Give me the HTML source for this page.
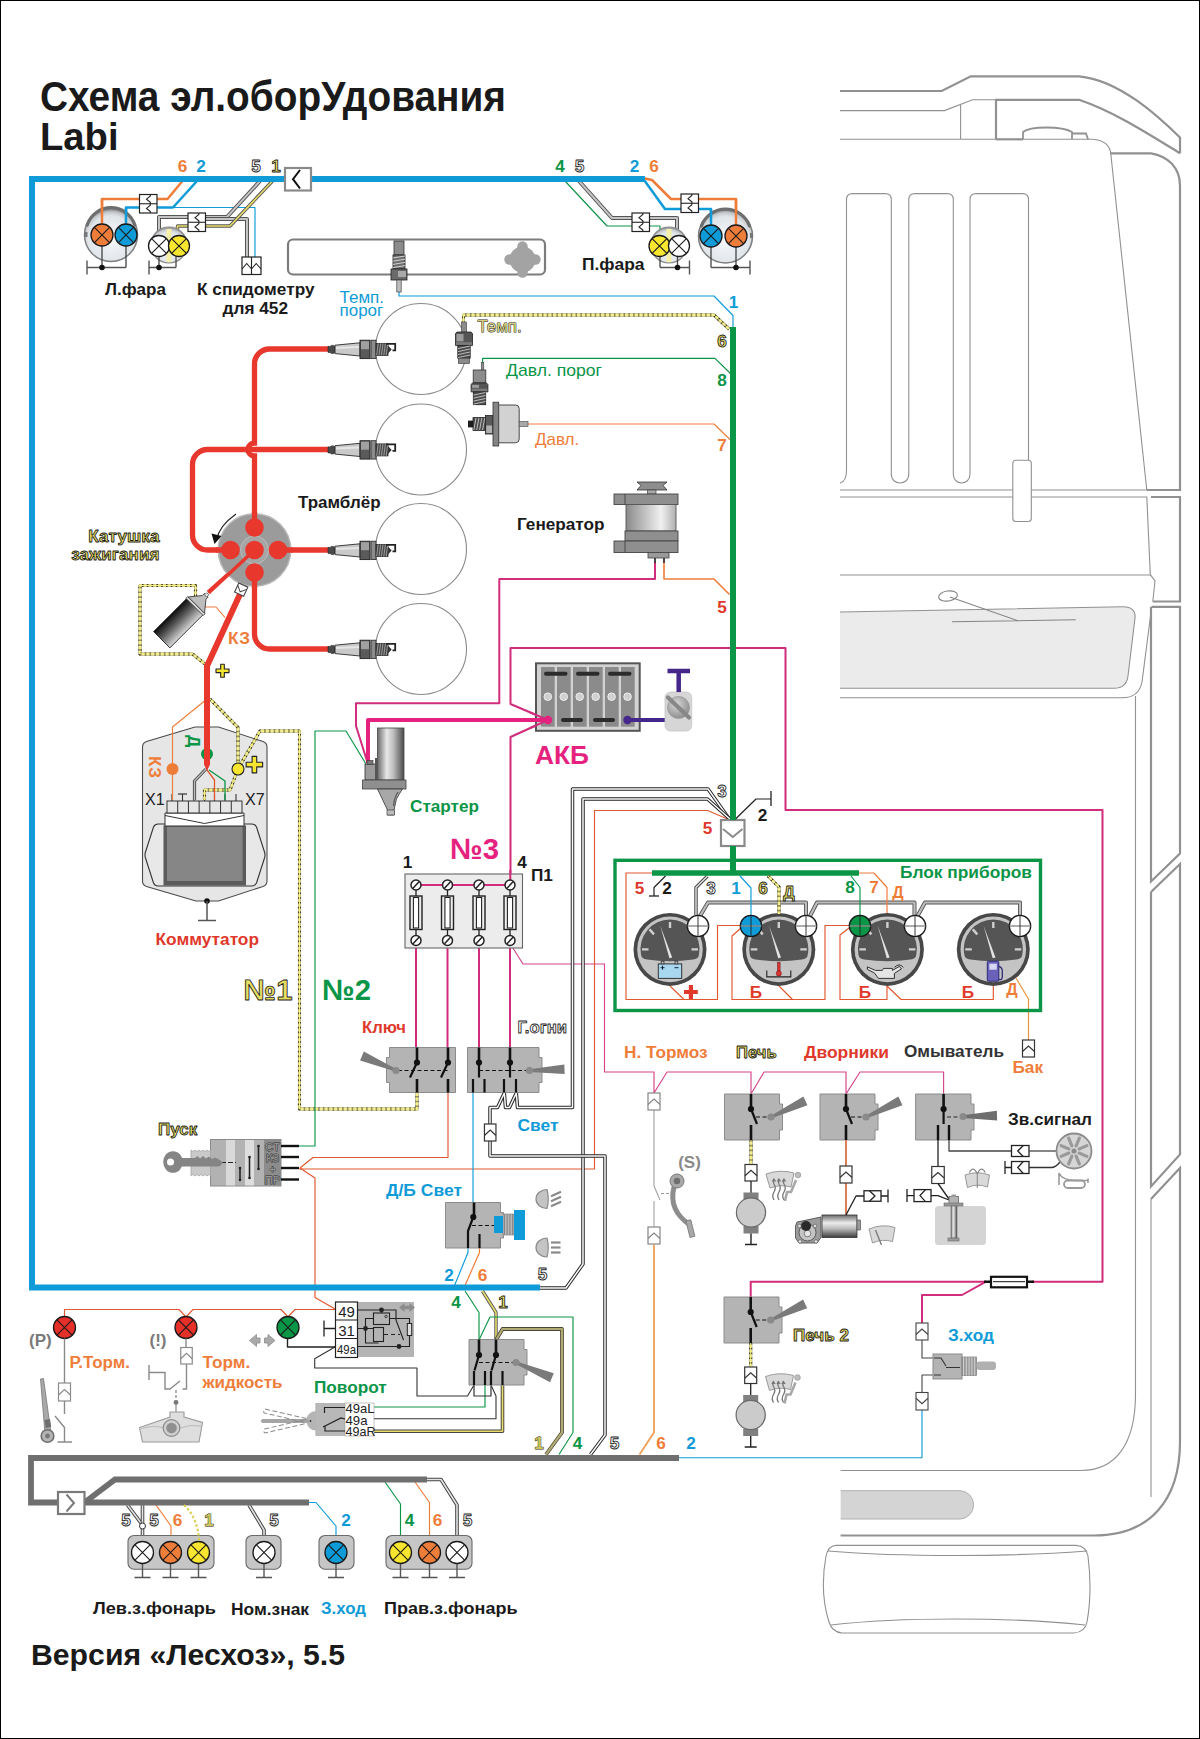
<!DOCTYPE html>
<html><head><meta charset="utf-8"><title>Схема эл.оборудования</title>
<style>html,body{margin:0;padding:0;background:#fff;}body{width:1200px;height:1739px;overflow:hidden;font-family:"Liberation Sans",sans-serif;}svg{display:block}</style>
</head><body>
<svg width="1200" height="1739" viewBox="0 0 1200 1739" font-family="'Liberation Sans', sans-serif">
<defs>
<radialGradient id="hl" cx="0.5" cy="0.58" r="0.55"><stop offset="0" stop-color="#f6f8fa"/><stop offset="0.8" stop-color="#e0e5ea"/><stop offset="0.93" stop-color="#c4c8cc"/><stop offset="1" stop-color="#9a9a9a"/></radialGradient>
<linearGradient id="cyl" x1="0" x2="1" y1="0" y2="0"><stop offset="0" stop-color="#6a6a6a"/><stop offset="0.35" stop-color="#e8e8e8"/><stop offset="0.6" stop-color="#bdbdbd"/><stop offset="1" stop-color="#4a4a4a"/></linearGradient>
<linearGradient id="cylv" x1="0" x2="0" y1="0" y2="1"><stop offset="0" stop-color="#6a6a6a"/><stop offset="0.35" stop-color="#ececec"/><stop offset="0.6" stop-color="#bdbdbd"/><stop offset="1" stop-color="#3c3c3c"/></linearGradient>
<linearGradient id="coilg" x1="0" x2="0" y1="1" y2="0"><stop offset="0" stop-color="#0c0c0c"/><stop offset="0.4" stop-color="#555"/><stop offset="1" stop-color="#d8d8d8"/></linearGradient>
<linearGradient id="gen" x1="0" x2="1" y1="0" y2="0"><stop offset="0" stop-color="#8a8a8a"/><stop offset="0.7" stop-color="#f0f0f0"/><stop offset="1" stop-color="#b0b0b0"/></linearGradient>
<linearGradient id="dome" x1="0" x2="0" y1="0" y2="1"><stop offset="0" stop-color="#9a9a9a"/><stop offset="0.3" stop-color="#dadada"/><stop offset="0.7" stop-color="#c4c4c4"/><stop offset="1" stop-color="#8a8a8a"/></linearGradient>
<radialGradient id="knob" cx="0.4" cy="0.35" r="0.7"><stop offset="0" stop-color="#d8d8d8"/><stop offset="1" stop-color="#8a8a8a"/></radialGradient>
</defs>
<path d="M840,91 H941.7 L970.8,76.3 H1079 C1120,80 1160,118 1180,137.5 V153.3" fill="none" stroke="#919191" stroke-width="2.2" />
<path d="M840,110.6 H944.5 L972.5,99.8 H996" fill="none" stroke="#919191" stroke-width="1.1" />
<path d="M996,139.3 V99.8 H1079 C1115,112 1150,135 1180,153.3" fill="none" stroke="#919191" stroke-width="2.2" />
<path d="M996,139.3 H1023" fill="none" stroke="#919191" stroke-width="2.2" />
<path d="M960.6,104.5 V139.3 M840,139.3 H996" fill="none" stroke="#919191" stroke-width="1.1" />
<path d="M1023,139.3 V132 C1030,126 1062,126 1072,132 V139.3 M1072,133.5 H1086 L1088,139.3" fill="none" stroke="#919191" stroke-width="1.7600000000000002" />
<path d="M1023,139.3 H1092 C1104,140 1110,146 1110.8,154" fill="none" stroke="#919191" stroke-width="1.1" />
<path d="M1110.8,154 L1146.8,490" fill="none" stroke="#919191" stroke-width="1.1" />
<path d="M1110.8,153.3 H1151 C1168,156 1180,168 1180,185.5 V490 H1146.8" fill="none" stroke="#919191" stroke-width="2.2" />
<path d="M840,483 C845,482 846.5,476 846.5,470 V199.6 Q846.5,193.6 852.5,193.6 H885.3 Q891.3,193.6 891.3,199.6 V474 C891.3,486 908.8,486 908.8,474 V199.6 Q908.8,193.6 914.8,193.6 H947.3 Q953.3,193.6 953.3,199.6 V474 C953.3,486 970,486 970,474 V199.6 Q970,193.6 976,193.6 H1022.5 Q1028.5,193.6 1028.5,199.6 V460" fill="none" stroke="#919191" stroke-width="1.1" />
<path d="M840,490 H1146.8 M840,497 H1146.8 L1150.3,574.7 L1155,581 L1152.8,601.5" fill="none" stroke="#919191" stroke-width="1.1" />
<rect x="1012.8" y="460.3" width="18.5" height="61.2" fill="#fff" stroke="#919191" stroke-width="1.1" rx="3" />
<path d="M1151,497 H1180 V601.5 H1152.8" fill="none" stroke="#919191" stroke-width="2.2" />
<path d="M840,575 H1150.3" fill="none" stroke="#919191" stroke-width="1.1" />
<path d="M840,612 L1123,606.8 Q1136,606.8 1135,618 L1128,676 Q1126.5,688.3 1114,688.3 H840" fill="#ebebeb" stroke="#919191" stroke-width="1.1" />
<path d="M840,697.8 H1122 C1134,697.8 1140,692 1142,682 L1151.7,606.8" fill="none" stroke="#919191" stroke-width="1.1" />
<path d="M1151.7,606.8 H1180 V853.5 L1151,881.5 V606.8" fill="none" stroke="#919191" stroke-width="2.2" />
<ellipse cx="948" cy="596" rx="9.5" ry="5" fill="none" stroke="#858585" stroke-width="1.1" transform="rotate(-8 948 596)"/>
<path d="M950,597 L1018,620.8 M952,621.8 L1075.8,619.7" fill="none" stroke="#858585" stroke-width="1.1" />
<path d="M1135.5,696 V1394 C1135.5,1445 1115,1470.5 1081,1470.5 H840.6" fill="none" stroke="#919191" stroke-width="1.1" />
<path d="M1151,892 L1180,864 V1154.4 L1151,1186.4 V892" fill="none" stroke="#919191" stroke-width="2.2" />
<path d="M1151,1199 L1180,1168 V1441.8 C1180,1500 1150,1535.5 1094,1535.5 H840.6" fill="none" stroke="#919191" stroke-width="2.2" />
<path d="M1151,1199 V1497" fill="none" stroke="#919191" stroke-width="1.1" />
<path d="M840.6,1490.7 H960.6 A14.2,14.2 0 0 1 960.6,1519 H840.6" fill="#d4d4d4" stroke="#b0b0b0" stroke-width="1" />
<path d="M836,1545.4 H1076 Q1086,1546 1088,1556 C1091,1580 1091,1600 1087,1622 Q1085,1632 1074,1633 H842 Q832,1632 829,1622 C822,1600 822,1578 826,1556 Q828,1546 836,1545.4 Z" fill="none" stroke="#919191" stroke-width="1.1" />
<path d="M828,1551 C900,1557 1010,1557 1087,1551 M831,1625 C900,1617 1010,1617 1085,1625" fill="none" stroke="#919191" stroke-width="1.1" />
<path d="M146.5,741.5 L195,727 H218.5 L263,741.5 Q267,743 267,747 V881 Q267,885 263,886.5 L218.5,901 H196 L146.5,886.5 Q142.5,885 142.5,881 V747 Q142.5,743 146.5,741.5 Z" fill="#e6e6e6" stroke="#4a4a4a" stroke-width="1.1"/>
<path d="M158,824 H252 Q255,824 256.5,827 L264.5,852 Q265.5,855 264.5,858 L256.5,883 Q255,886 252,886 H158 Q155,886 153.5,883 L145.5,858 Q144.5,855 145.5,852 L153.5,827 Q155,824 158,824 Z" fill="#e8e8e8" stroke="#333" stroke-width="1.1"/>
<rect x="164" y="826" width="81.5" height="59" fill="#868686" stroke="#555" stroke-width="1" rx="0" />
<rect x="164" y="826" width="3" height="59" fill="#5c5c5c" stroke="none" stroke-width="1" rx="0" />
<rect x="242.5" y="826" width="3" height="59" fill="#5c5c5c" stroke="none" stroke-width="1" rx="0" />
<rect x="164" y="881" width="81.5" height="4" fill="#5c5c5c" stroke="none" stroke-width="1" rx="0" />
<path d="M165,813 H244 V826 H165 Z" fill="#fff" stroke="#333" stroke-width="1"/>
<path d="M165,815.5 L204.5,823.5 L244,815.5" stroke="#333" stroke-width="1" fill="none"/>
<rect x="167" y="801" width="75" height="12" fill="#e6e6e6" stroke="#333" stroke-width="1" rx="0" />
<path d="M177.714,801V813" stroke="#333" stroke-width="1"/>
<path d="M188.429,801V813" stroke="#333" stroke-width="1"/>
<path d="M199.143,801V813" stroke="#333" stroke-width="1"/>
<path d="M209.857,801V813" stroke="#333" stroke-width="1"/>
<path d="M220.571,801V813" stroke="#333" stroke-width="1"/>
<path d="M231.286,801V813" stroke="#333" stroke-width="1"/>
<path d="M172,794V801" stroke="#333" stroke-width="1.1"/>
<path d="M182.5,794V801" stroke="#333" stroke-width="1.1"/>
<path d="M194,794V801" stroke="#333" stroke-width="1.1"/>
<path d="M204.5,794V801" stroke="#333" stroke-width="1.1"/>
<path d="M214.5,794V801" stroke="#333" stroke-width="1.1"/>
<path d="M225,794V801" stroke="#333" stroke-width="1.1"/>
<path d="M236,794V801" stroke="#333" stroke-width="1.1"/>
<path d="M178,794H187" stroke="#333" stroke-width="1.2"/>
<polyline points="655,562 655,579 499.3,579 499.3,703.2 356,703.2 356,726 367,761" fill="none" stroke="#d22c7d" stroke-width="2.0" stroke-linejoin="round" />
<polyline points="548,720 368,720 368,763" fill="none" stroke="#e5237f" stroke-width="4" stroke-linejoin="round" />
<polyline points="548,720 510.5,704 510.5,648 785.5,648 785.5,810 1102.5,810 1102.5,1281.7 1032,1281.7" fill="none" stroke="#d22c7d" stroke-width="2.0" stroke-linejoin="round" />
<polyline points="548,720 510.5,737 510.5,885" fill="none" stroke="#d22c7d" stroke-width="2.0" stroke-linejoin="round" />
<polyline points="416,885 510,885" fill="none" stroke="#d22c7d" stroke-width="2.0" stroke-linejoin="round" />
<polyline points="416,944 416,1048" fill="none" stroke="#d22c7d" stroke-width="2.0" stroke-linejoin="round" />
<polyline points="447.5,944 447.5,1048" fill="none" stroke="#d22c7d" stroke-width="2.0" stroke-linejoin="round" />
<polyline points="479,944 479,1048" fill="none" stroke="#d22c7d" stroke-width="2.0" stroke-linejoin="round" />
<polyline points="510,944 510,1048" fill="none" stroke="#d22c7d" stroke-width="2.0" stroke-linejoin="round" />
<polyline points="511,945 523,964 604.5,964 604.5,1072 654,1072 654,1093 667,1072 751,1072 751,1094 764,1072 846,1072 846,1094 860,1072 943.6,1072 943.6,1094" fill="none" stroke="#d4458a" stroke-width="1.15" stroke-linejoin="miter" />
<polyline points="750.7,1297 750.7,1281.7 986,1281.7" fill="none" stroke="#d22c7d" stroke-width="2.0" stroke-linejoin="round" />
<polyline points="986,1281.7 962,1295 922,1295 922,1323" fill="none" stroke="#d22c7d" stroke-width="2.0" stroke-linejoin="round" />
<polyline points="664,562 664,579 714,579 729.5,594.5" fill="none" stroke="#ef7d3a" stroke-width="1.6" stroke-linejoin="round" />
<polyline points="727.5,819 707.5,810.5 594.5,810.5 594.5,1169 299,1169" fill="none" stroke="#e2582e" stroke-width="1.15" stroke-linejoin="round" />
<polyline points="448,1092.5 448,1157.5 313,1157.5 300,1168" fill="none" stroke="#e2582e" stroke-width="1.15" stroke-linejoin="round" />
<polyline points="300,1168 315,1178 315,1297.5 336,1309.5" fill="none" stroke="#e2582e" stroke-width="1.15" stroke-linejoin="round" />
<polyline points="64.5,1317 64.5,1309.5 179,1309.5 186,1317 193,1309.5 281,1309.5 288,1317 295,1309.5 336,1309.5" fill="none" stroke="#e2582e" stroke-width="1.15" stroke-linejoin="round" />
<polyline points="652,873 626,873 626,999.5 717.5,999.5 717.5,925.5 741,925.5" fill="none" stroke="#e2582e" stroke-width="1.15" stroke-linejoin="round" />
<polyline points="670,986 684,999.5" fill="none" stroke="#e2582e" stroke-width="1.15" stroke-linejoin="round" />
<polyline points="741,928 732,936 732,999.5 825,999.5 825,925.5 850,925.5" fill="none" stroke="#e2582e" stroke-width="1.15" stroke-linejoin="round" />
<polyline points="779,986 792.5,999.5" fill="none" stroke="#e2582e" stroke-width="1.15" stroke-linejoin="round" />
<polyline points="849,928 840,935 840,999.5 887,999.5 887,986" fill="none" stroke="#e2582e" stroke-width="1.15" stroke-linejoin="round" />
<polyline points="887,986 901,999.5 993.3,999.5 993.3,986" fill="none" stroke="#e2582e" stroke-width="1.15" stroke-linejoin="round" />
<polyline points="399,291 399,296 714,296 733,315.5 733,328" fill="none" stroke="#0f9bd7" stroke-width="1.15" stroke-linejoin="round" />
<polyline points="482.6,363 482.6,358.4 715,358.4 730.5,373.5" fill="none" stroke="#0b9547" stroke-width="1.15" stroke-linejoin="round" />
<polyline points="527,424 714,424 730.5,440" fill="none" stroke="#ef7d3a" stroke-width="1.2" stroke-linejoin="round" />
<polyline points="463.5,323 463.5,315 714,315 729,329" fill="none" stroke="#8a8758" stroke-width="3.1" stroke-linejoin="round" />
<polyline points="463.5,323 463.5,315 714,315 729,329" fill="none" stroke="#f3ec84" stroke-width="2.3" stroke-linejoin="round" />
<polyline points="463.5,323 463.5,315 714,315 729,329" fill="none" stroke="#3c3c2a" stroke-width="3.1" stroke-linejoin="round" stroke-dasharray="1.6 3.2"/>
<polyline points="463.5,323 463.5,315 714,315 729,329" fill="none" stroke="#f6f08e" stroke-width="1.0" stroke-linejoin="round" />
<polyline points="182.5,181 167.5,199 102,199 102,232" fill="none" stroke="#ef7d3a" stroke-width="2.5" stroke-linejoin="round" />
<polyline points="197,181 173,207.5 126,207.5 126,232" fill="none" stroke="#0f9bd7" stroke-width="2.5" stroke-linejoin="round" />
<polyline points="173,207.5 255,207.5 255,258" fill="none" stroke="#0f9bd7" stroke-width="1.15" stroke-linejoin="round" />
<polyline points="260,181 227,217 159,217 159,238" fill="none" stroke="#555" stroke-width="4" stroke-linejoin="round" />
<polyline points="260,181 227,217 159,217 159,238" fill="none" stroke="#c4c4c4" stroke-width="2" stroke-linejoin="round" />
<polyline points="205,219 247,219 247,258" fill="none" stroke="#555" stroke-width="4" stroke-linejoin="round" />
<polyline points="205,219 247,219 247,258" fill="none" stroke="#c4c4c4" stroke-width="2" stroke-linejoin="round" />
<polyline points="272.5,181 230,226 177.5,226 177.5,238" fill="none" stroke="#555" stroke-width="3.4" stroke-linejoin="round" />
<polyline points="272.5,181 230,226 177.5,226 177.5,238" fill="none" stroke="#e9dc6a" stroke-width="1.6" stroke-linejoin="round" />
<polyline points="643,178.5 665,209 711,209 711,232" fill="none" stroke="#0f9bd7" stroke-width="2.5" stroke-linejoin="round" />
<polyline points="645,178.5 652,180 671,199 736,199 736,232" fill="none" stroke="#ef7d3a" stroke-width="2.5" stroke-linejoin="round" />
<polyline points="579,181 612,218 677,218 677,238" fill="none" stroke="#555" stroke-width="4" stroke-linejoin="round" />
<polyline points="579,181 612,218 677,218 677,238" fill="none" stroke="#c4c4c4" stroke-width="2" stroke-linejoin="round" />
<polyline points="565,181 607,226 660,226 660,238" fill="none" stroke="#0b9547" stroke-width="1.15" stroke-linejoin="round" />
<polyline points="204,607 216,607 225,617.5" fill="none" stroke="#ef7d3a" stroke-width="1.15" stroke-linejoin="round" />
<polyline points="195.5,596 195.5,585.5 140,585.5 140,654 192.5,654 205,664" fill="none" stroke="#8a8758" stroke-width="3.1" stroke-linejoin="round" />
<polyline points="195.5,596 195.5,585.5 140,585.5 140,654 192.5,654 205,664" fill="none" stroke="#f3ec84" stroke-width="2.3" stroke-linejoin="round" />
<polyline points="195.5,596 195.5,585.5 140,585.5 140,654 192.5,654 205,664" fill="none" stroke="#3c3c2a" stroke-width="3.1" stroke-linejoin="round" stroke-dasharray="1.6 3.2"/>
<polyline points="195.5,596 195.5,585.5 140,585.5 140,654 192.5,654 205,664" fill="none" stroke="#f6f08e" stroke-width="1.0" stroke-linejoin="round" />
<polyline points="207,699 172.5,727 172.5,800" fill="none" stroke="#ef7d3a" stroke-width="1.15" stroke-linejoin="round" />
<polyline points="210,699 238,727.5 238,769" fill="none" stroke="#8a8758" stroke-width="3.1" stroke-linejoin="round" />
<polyline points="210,699 238,727.5 238,769" fill="none" stroke="#f3ec84" stroke-width="2.3" stroke-linejoin="round" />
<polyline points="210,699 238,727.5 238,769" fill="none" stroke="#3c3c2a" stroke-width="3.1" stroke-linejoin="round" stroke-dasharray="1.6 3.2"/>
<polyline points="210,699 238,727.5 238,769" fill="none" stroke="#f6f08e" stroke-width="1.0" stroke-linejoin="round" />
<polyline points="238,769 260,731 299.5,731 299.5,1109 417,1109 417,1093" fill="none" stroke="#8a8758" stroke-width="3.1" stroke-linejoin="round" />
<polyline points="238,769 260,731 299.5,731 299.5,1109 417,1109 417,1093" fill="none" stroke="#f3ec84" stroke-width="2.3" stroke-linejoin="round" />
<polyline points="238,769 260,731 299.5,731 299.5,1109 417,1109 417,1093" fill="none" stroke="#3c3c2a" stroke-width="3.1" stroke-linejoin="round" stroke-dasharray="1.6 3.2"/>
<polyline points="238,769 260,731 299.5,731 299.5,1109 417,1109 417,1093" fill="none" stroke="#f6f08e" stroke-width="1.0" stroke-linejoin="round" />
<polyline points="238,769 230,790 204.5,790 204.5,800" fill="none" stroke="#8a8758" stroke-width="3.1" stroke-linejoin="round" />
<polyline points="238,769 230,790 204.5,790 204.5,800" fill="none" stroke="#f3ec84" stroke-width="2.3" stroke-linejoin="round" />
<polyline points="238,769 230,790 204.5,790 204.5,800" fill="none" stroke="#3c3c2a" stroke-width="3.1" stroke-linejoin="round" stroke-dasharray="1.6 3.2"/>
<polyline points="238,769 230,790 204.5,790 204.5,800" fill="none" stroke="#f6f08e" stroke-width="1.0" stroke-linejoin="round" />
<polyline points="366,764 346,731 315,731 315,1146 299,1146" fill="none" stroke="#0b9547" stroke-width="1.15" stroke-linejoin="round" />
<polyline points="473,1092.5 473,1203" fill="none" stroke="#0f9bd7" stroke-width="1.15" stroke-linejoin="round" />
<polyline points="468,1248 468,1252.5 454.5,1285.5" fill="none" stroke="#0f9bd7" stroke-width="1.15" stroke-linejoin="round" />
<polyline points="479.5,1248 479.5,1252.5 465,1285.5" fill="none" stroke="#ef7d3a" stroke-width="1.2" stroke-linejoin="round" />
<polyline points="465,1291 479,1312.5 479,1340" fill="none" stroke="#0b9547" stroke-width="1.15" stroke-linejoin="round" />
<polyline points="482.5,1291 496,1312.5 496,1340" fill="none" stroke="#555" stroke-width="3.4" stroke-linejoin="round" />
<polyline points="482.5,1291 496,1312.5 496,1340" fill="none" stroke="#e9dc6a" stroke-width="1.6" stroke-linejoin="round" />
<polyline points="479,1340 490,1317 573,1317 573,1432.5 559,1454.5" fill="none" stroke="#0b9547" stroke-width="1.15" stroke-linejoin="round" />
<polyline points="496,1340 502.5,1329 562,1329 562,1432.5 546,1454.5" fill="none" stroke="#4a4634" stroke-width="3.8" stroke-linejoin="round" />
<polyline points="496,1340 502.5,1329 562,1329 562,1432.5 546,1454.5" fill="none" stroke="#b0aa74" stroke-width="2.2" stroke-linejoin="round" />
<polyline points="485,1385 485,1407 374,1407" fill="none" stroke="#0b9547" stroke-width="1.15" stroke-linejoin="round" />
<polyline points="491,1385 496,1396 496,1418.7 374,1418.7" fill="none" stroke="#333" stroke-width="1.1" stroke-linejoin="round" />
<polyline points="502.5,1385 502.5,1431.3 374,1431.3" fill="none" stroke="#444" stroke-width="3.6" stroke-linejoin="round" />
<polyline points="502.5,1385 502.5,1431.3 374,1431.3" fill="none" stroke="#e9dc6a" stroke-width="1.6" stroke-linejoin="round" />
<polyline points="474,1385 467.5,1396 417,1396 417,1368 314.7,1368 314.7,1358.7 335.3,1346.7" fill="none" stroke="#333" stroke-width="1.1" stroke-linejoin="round" />
<polyline points="474,1385 474,1396 491,1396 491,1385" fill="none" stroke="#333" stroke-width="1.2" stroke-linejoin="round" />
<polyline points="287.5,1338.5 287.5,1347 335,1347" fill="none" stroke="#222" stroke-width="1.4" stroke-linejoin="round" />
<polyline points="654,1244.5 654,1432.5 639.5,1454.5" fill="none" stroke="#eda055" stroke-width="1.8" stroke-linejoin="round" />
<polyline points="654,1110 654,1186 660,1200" fill="none" stroke="#a8a8a8" stroke-width="1.2" stroke-linejoin="round" />
<polyline points="654,1201 654,1227" fill="none" stroke="#a8a8a8" stroke-width="1.2" stroke-linejoin="round" />
<polyline points="679,1457.7 922,1457.7 922,1410" fill="none" stroke="#0f9bd7" stroke-width="1.15" stroke-linejoin="round" />
<polyline points="922,1340 922,1358 934,1358" fill="none" stroke="#444" stroke-width="1.1" stroke-linejoin="round" />
<polyline points="934,1375 922,1375 922,1392" fill="none" stroke="#444" stroke-width="1.1" stroke-linejoin="round" />
<polyline points="1016,978 1028.5,999 1028.5,1040" fill="none" stroke="#e8953f" stroke-width="1.2" stroke-linejoin="round" />
<polyline points="385,1482 400.5,1504 400.5,1542" fill="none" stroke="#0b9547" stroke-width="1.15" stroke-linejoin="round" />
<polyline points="415,1482 429.5,1502.5 429.5,1542" fill="none" stroke="#ef7d3a" stroke-width="1.15" stroke-linejoin="round" />
<polyline points="156,1505 171,1526 171,1542" fill="none" stroke="#ef7d3a" stroke-width="1.15" stroke-linejoin="round" />
<polyline points="309,1502.5 316,1502.5 336,1526 336,1542" fill="none" stroke="#0f9bd7" stroke-width="1.15" stroke-linejoin="round" />
<polyline points="730,820 708,789 572.5,789 572.5,1107.5 517.5,1107.5 516.3,1093 509.5,1107.5 505.5,1107.5 504.3,1093 497.5,1107.5 490,1107.5 490,1124" fill="none" stroke="#262626" stroke-width="3.5" stroke-linejoin="round" />
<polyline points="730,820 708,789 572.5,789 572.5,1107.5 517.5,1107.5 516.3,1093 509.5,1107.5 505.5,1107.5 504.3,1093 497.5,1107.5 490,1107.5 490,1124" fill="none" stroke="#fafafa" stroke-width="1.5" stroke-linejoin="round" />
<polyline points="731,820 707.5,799 583,799 583,1264 566,1288 540,1288" fill="none" stroke="#262626" stroke-width="3.5" stroke-linejoin="round" />
<polyline points="731,820 707.5,799 583,799 583,1264 566,1288 540,1288" fill="none" stroke="#fafafa" stroke-width="1.5" stroke-linejoin="round" />
<polyline points="490,1141 490,1156 605,1156 605,1435 590.5,1454.5" fill="none" stroke="#262626" stroke-width="3.5" stroke-linejoin="round" />
<polyline points="490,1141 490,1156 605,1156 605,1435 590.5,1454.5" fill="none" stroke="#fafafa" stroke-width="1.5" stroke-linejoin="round" />
<polyline points="707.5,876 696,887.5 696,915" fill="none" stroke="#444" stroke-width="3.4" stroke-linejoin="round" />
<polyline points="707.5,876 696,887.5 696,915" fill="none" stroke="#e4e4e4" stroke-width="1.4" stroke-linejoin="round" />
<polyline points="700,916 708,902.5 806,902.5 806,915" fill="none" stroke="#555" stroke-width="4" stroke-linejoin="round" />
<polyline points="700,916 708,902.5 806,902.5 806,915" fill="none" stroke="#bdbdbd" stroke-width="2.2" stroke-linejoin="round" />
<polyline points="810,916 817,902.5 914.5,902.5 914.5,915" fill="none" stroke="#555" stroke-width="4" stroke-linejoin="round" />
<polyline points="810,916 817,902.5 914.5,902.5 914.5,915" fill="none" stroke="#bdbdbd" stroke-width="2.2" stroke-linejoin="round" />
<polyline points="917.5,916 925,902.5 1020,902.5 1020,915" fill="none" stroke="#555" stroke-width="4" stroke-linejoin="round" />
<polyline points="917.5,916 925,902.5 1020,902.5 1020,915" fill="none" stroke="#bdbdbd" stroke-width="2.2" stroke-linejoin="round" />
<polyline points="427,1479.5 441,1479.5 457,1505 457,1542" fill="none" stroke="#444" stroke-width="3.6" stroke-linejoin="round" />
<polyline points="427,1479.5 441,1479.5 457,1505 457,1542" fill="none" stroke="#e4e4e4" stroke-width="1.6" stroke-linejoin="round" />
<polyline points="127.5,1505 142.5,1525" fill="none" stroke="#444" stroke-width="3.6" stroke-linejoin="round" />
<polyline points="127.5,1505 142.5,1525" fill="none" stroke="#e4e4e4" stroke-width="1.6" stroke-linejoin="round" />
<polyline points="142.5,1505 142.5,1542" fill="none" stroke="#444" stroke-width="3.6" stroke-linejoin="round" />
<polyline points="142.5,1505 142.5,1542" fill="none" stroke="#e4e4e4" stroke-width="1.6" stroke-linejoin="round" />
<polyline points="249,1505 264,1530 264,1542" fill="none" stroke="#444" stroke-width="3.6" stroke-linejoin="round" />
<polyline points="249,1505 264,1530 264,1542" fill="none" stroke="#e4e4e4" stroke-width="1.6" stroke-linejoin="round" />
<circle cx="142.5" cy="1526" r="3" fill="#fff" stroke="#333" stroke-width="1" />
<polyline points="645,179 32,179 32,1287.5 540,1287.5" fill="none" stroke="#0f9bd7" stroke-width="6" stroke-linejoin="miter" />
<polyline points="733,327 733,873" fill="none" stroke="#0b9547" stroke-width="6" stroke-linejoin="round" />
<polyline points="652,873 859,873" fill="none" stroke="#0b9547" stroke-width="5.5" stroke-linejoin="round" />
<polyline points="679,1458 31,1458 31,1502.5 58,1502.5" fill="none" stroke="#6f6f6f" stroke-width="5.8" stroke-linejoin="miter" />
<polyline points="84.5,1502.5 115,1479.5 427,1479.5" fill="none" stroke="#6f6f6f" stroke-width="5.8" stroke-linejoin="miter" />
<polyline points="84.5,1502.5 309,1502.5" fill="none" stroke="#6f6f6f" stroke-width="5.8" stroke-linejoin="round" />
<path d="M329,349 H269.5 A15,15 0 0 0 254.5,364 V443 A6.5,6.5 0 0 0 254.5,456 V527" fill="none" stroke="#e8372c" stroke-width="5.3" />
<path d="M329,449.5 H207.5 A15,15 0 0 0 192.5,464.5 V535 A15,15 0 0 0 207.5,550 H230" fill="none" stroke="#e8372c" stroke-width="5.3" />
<path d="M277,550 H329" fill="none" stroke="#e8372c" stroke-width="5.3" />
<path d="M254.5,572 V634 A15,15 0 0 0 269.5,649 H329" fill="none" stroke="#e8372c" stroke-width="5.3" />
<polyline points="255,550 208,592" fill="none" stroke="#e8372c" stroke-width="3.6" stroke-linejoin="round" />
<polyline points="241,592 207,666 207,765" fill="none" stroke="#e8372c" stroke-width="6" stroke-linejoin="round" />
<path d="M204,764 L207,770.5 L210,764 Z" fill="#e8372c"/>
<circle cx="111" cy="235" r="26.5" fill="url(#hl)" stroke="#7d7d7d" stroke-width="1.5" />
<path d="M87.2,225 A25,25 0 0 1 134.8,225" stroke="#6e6e6e" stroke-width="3.2" fill="none" stroke-linecap="round"/>
<path d="M102,246V267.5M126,246V267.5" stroke="#444" stroke-width="1.3"/>
<path d="M126,267.5H87M87,260.5V274.5" stroke="#555" stroke-width="1.4" fill="none"/>
<circle cx="102" cy="267.5" r="2.8" fill="#111" stroke="none" stroke-width="1" />
<polyline points="102,199.5 102,228" fill="none" stroke="#ef7d3a" stroke-width="2.5" stroke-linejoin="round" />
<polyline points="126,208 126,228" fill="none" stroke="#0f9bd7" stroke-width="2.5" stroke-linejoin="round" />
<circle cx="102" cy="235" r="11" fill="#ef7d3a" stroke="#1a1a1a" stroke-width="1.3" />
<path d="M94.2219,227.222L109.778,242.778M109.778,227.222L94.2219,242.778" stroke="#1a1a1a" stroke-width="1.1" fill="none"/>
<circle cx="126" cy="235" r="11" fill="#0f9bd7" stroke="#1a1a1a" stroke-width="1.3" />
<path d="M118.222,227.222L133.778,242.778M133.778,227.222L118.222,242.778" stroke="#1a1a1a" stroke-width="1.1" fill="none"/>
<rect x="84.5" y="232" width="3" height="5" fill="#777" stroke="none" stroke-width="1" rx="0" />
<circle cx="169" cy="245" r="18" fill="url(#hl)" stroke="#8a8a8a" stroke-width="1.2" />
<rect x="166.5" y="229" width="5" height="33" fill="#f6f0a8" stroke="none" stroke-width="1" rx="0" />
<path d="M159,256V267.5M176,256V267.5" stroke="#444" stroke-width="1.3"/>
<path d="M176,267.5H149M149,260.5V274.5" stroke="#555" stroke-width="1.4" fill="none"/>
<circle cx="159" cy="267.5" r="2.8" fill="#111" stroke="none" stroke-width="1" />
<circle cx="159" cy="246" r="10.5" fill="#fff" stroke="#1a1a1a" stroke-width="1.3" />
<path d="M151.575,238.575L166.425,253.425M166.425,238.575L151.575,253.425" stroke="#1a1a1a" stroke-width="1.1" fill="none"/>
<circle cx="179" cy="246" r="10.5" fill="#f7e52f" stroke="#1a1a1a" stroke-width="1.3" />
<path d="M171.575,238.575L186.425,253.425M186.425,238.575L171.575,253.425" stroke="#1a1a1a" stroke-width="1.1" fill="none"/>
<rect x="139.5" y="194.5" width="17.5" height="18.5" fill="#fff" stroke="#222" stroke-width="1.2" rx="0" />
<path d="M139.5,203.75H157" stroke="#222" stroke-width="1.1"/>
<path d="M150.35,194.5V196L146.5,199.125L150.35,202.25V203.75" stroke="#222" stroke-width="1.1" fill="none"/>
<path d="M150.35,203.75V205.25L146.5,208.375L150.35,211.5V213" stroke="#222" stroke-width="1.1" fill="none"/>
<rect x="188" y="213" width="17.5" height="18.5" fill="#fff" stroke="#222" stroke-width="1.2" rx="0" />
<path d="M188,222.25H205.5" stroke="#222" stroke-width="1.1"/>
<path d="M198.85,213V214.5L195,217.625L198.85,220.75V222.25" stroke="#222" stroke-width="1.1" fill="none"/>
<path d="M198.85,222.25V223.75L195,226.875L198.85,230V231.5" stroke="#222" stroke-width="1.1" fill="none"/>
<rect x="242" y="257" width="19" height="17.5" fill="#fff" stroke="#222" stroke-width="1.2" rx="0" />
<path d="M251.5,257V274.5M242,269L246.7,263.5L251.5,269L256.2,263.5L261,269" stroke="#222" stroke-width="1.1" fill="none"/>
<circle cx="725.5" cy="236" r="27" fill="url(#hl)" stroke="#7d7d7d" stroke-width="1.5" />
<path d="M701.5,226 A25.5,25.5 0 0 1 749.5,226" stroke="#6e6e6e" stroke-width="3.2" fill="none" stroke-linecap="round"/>
<path d="M711,247V267.5M736,247V267.5" stroke="#444" stroke-width="1.3"/>
<path d="M711,267.5H750M750,260.5V274.5" stroke="#555" stroke-width="1.4" fill="none"/>
<circle cx="736" cy="267.5" r="2.8" fill="#111" stroke="none" stroke-width="1" />
<polyline points="711,209.5 711,229" fill="none" stroke="#0f9bd7" stroke-width="2.5" stroke-linejoin="round" />
<polyline points="736,199.5 736,229" fill="none" stroke="#ef7d3a" stroke-width="2.5" stroke-linejoin="round" />
<circle cx="711" cy="236" r="11" fill="#0f9bd7" stroke="#1a1a1a" stroke-width="1.3" />
<path d="M703.222,228.222L718.778,243.778M718.778,228.222L703.222,243.778" stroke="#1a1a1a" stroke-width="1.1" fill="none"/>
<circle cx="736" cy="236" r="11" fill="#ef7d3a" stroke="#1a1a1a" stroke-width="1.3" />
<path d="M728.222,228.222L743.778,243.778M743.778,228.222L728.222,243.778" stroke="#1a1a1a" stroke-width="1.1" fill="none"/>
<rect x="750" y="233" width="3" height="5" fill="#777" stroke="none" stroke-width="1" rx="0" />
<circle cx="669" cy="245" r="18" fill="url(#hl)" stroke="#8a8a8a" stroke-width="1.2" />
<rect x="666.5" y="229" width="5" height="33" fill="#f6f0a8" stroke="none" stroke-width="1" rx="0" />
<path d="M660,256V267.5M677.5,256V267.5" stroke="#444" stroke-width="1.3"/>
<path d="M660,267.5H689.5M689.5,260.5V274.5" stroke="#555" stroke-width="1.4" fill="none"/>
<circle cx="677.5" cy="267.5" r="2.8" fill="#111" stroke="none" stroke-width="1" />
<circle cx="659.5" cy="246" r="10.5" fill="#f7e52f" stroke="#1a1a1a" stroke-width="1.3" />
<path d="M652.075,238.575L666.925,253.425M666.925,238.575L652.075,253.425" stroke="#1a1a1a" stroke-width="1.1" fill="none"/>
<circle cx="679" cy="246" r="10.5" fill="#fff" stroke="#1a1a1a" stroke-width="1.3" />
<path d="M671.575,238.575L686.425,253.425M686.425,238.575L671.575,253.425" stroke="#1a1a1a" stroke-width="1.1" fill="none"/>
<rect x="681" y="194" width="17.5" height="18.5" fill="#fff" stroke="#222" stroke-width="1.2" rx="0" />
<path d="M681,203.25H698.5" stroke="#222" stroke-width="1.1"/>
<path d="M691.85,194V195.5L688,198.625L691.85,201.75V203.25" stroke="#222" stroke-width="1.1" fill="none"/>
<path d="M691.85,203.25V204.75L688,207.875L691.85,211V212.5" stroke="#222" stroke-width="1.1" fill="none"/>
<rect x="632" y="213" width="17.5" height="18.5" fill="#fff" stroke="#222" stroke-width="1.2" rx="0" />
<path d="M632,222.25H649.5" stroke="#222" stroke-width="1.1"/>
<path d="M642.85,213V214.5L639,217.625L642.85,220.75V222.25" stroke="#222" stroke-width="1.1" fill="none"/>
<path d="M642.85,222.25V223.75L639,226.875L642.85,230V231.5" stroke="#222" stroke-width="1.1" fill="none"/>
<rect x="285" y="168" width="26" height="22.5" fill="#fff" stroke="#8a8a8a" stroke-width="2.2" rx="0" />
<path d="M300,170L293,179.2L300,188.5" stroke="#111" stroke-width="2" fill="none"/>
<rect x="288" y="239.5" width="257" height="35" fill="#fff" stroke="#7c7c7c" stroke-width="2.2" rx="5" />
<g fill="#a3a3a3"><rect x="510.5" y="247.5" width="24" height="24" rx="5" transform="rotate(45 522.5 259.5)"/><circle cx="522.5" cy="259.5" r="13"/><circle cx="522.5" cy="246.5" r="5.2"/><circle cx="522.5" cy="272.5" r="5.2"/><circle cx="509.5" cy="259.5" r="5.2"/><circle cx="535.5" cy="259.5" r="5.2"/></g>
<rect x="394" y="241" width="10" height="14" fill="#8b8b8b" stroke="#333" stroke-width="0.8" rx="0" />
<rect x="393" y="255" width="12" height="14" fill="#6f6f6f" stroke="#222" stroke-width="0.8" rx="0" />
<path d="M393,258L405,256" stroke="#ddd" stroke-width="0.9"/>
<path d="M393,261.2L405,259.2" stroke="#ddd" stroke-width="0.9"/>
<path d="M393,264.4L405,262.4" stroke="#ddd" stroke-width="0.9"/>
<path d="M393,267.6L405,265.6" stroke="#ddd" stroke-width="0.9"/>
<rect x="391" y="269" width="16" height="11" fill="#6a6a6a" stroke="#222" stroke-width="0.8" rx="0" />
<rect x="398" y="271" width="8" height="6" fill="#a9a9a9" stroke="none" stroke-width="1" rx="0" />
<rect x="396.8" y="280" width="4.4" height="12" fill="#bdbdbd" stroke="#444" stroke-width="0.7" rx="0" />
<circle cx="421" cy="349" r="45.5" fill="none" stroke="#8a8a8a" stroke-width="1.1" />
<circle cx="421" cy="449.5" r="45.5" fill="none" stroke="#8a8a8a" stroke-width="1.1" />
<circle cx="421" cy="549" r="45.5" fill="none" stroke="#8a8a8a" stroke-width="1.1" />
<circle cx="421" cy="649" r="45.5" fill="none" stroke="#8a8a8a" stroke-width="1.1" />
<path d="M328,346.4 h2 l1.5,-1 h2 l1.5,1 V352.4 l-1.5,1 h-2 l-1.5,-1 h-2 Z" fill="#4a4a4a" stroke="#222" stroke-width="0.6"/>
<path d="M335,345.2 L360,342.8 V356 L335,353.6 Z" fill="#c9c9c9" stroke="#2a2a2a" stroke-width="0.9"/>
<path d="M336,347.9 L359,346.9" stroke="#e6e6e6" stroke-width="2"/>
<rect x="360" y="340.2" width="10" height="18.4" fill="#5a5a5a" stroke="#222" stroke-width="0.9" rx="0" />
<rect x="361" y="341.2" width="8" height="8" fill="#a0a0a0" stroke="none" stroke-width="1" rx="0" />
<rect x="371" y="340.2" width="5" height="18.4" fill="#8c8c8c" stroke="#2a2a2a" stroke-width="0.8" rx="0" />
<rect x="376" y="343.4" width="12" height="12" fill="#4a4a4a" stroke="#222" stroke-width="0.8" rx="0" />
<path d="M378.2,343.4L376.6,355.4" stroke="#bdbdbd" stroke-width="0.7"/>
<path d="M380.6,343.4L379,355.4" stroke="#bdbdbd" stroke-width="0.7"/>
<path d="M383,343.4L381.4,355.4" stroke="#bdbdbd" stroke-width="0.7"/>
<path d="M385.4,343.4L383.8,355.4" stroke="#bdbdbd" stroke-width="0.7"/>
<path d="M387.8,343.4L386.2,355.4" stroke="#bdbdbd" stroke-width="0.7"/>
<path d="M388,345.4 L391.7,349.4 L388,353.4 Z" fill="#333"/>
<path d="M386,343.8H395.2V350.4H392.5" stroke="#222" stroke-width="1.8" fill="none"/>
<path d="M328,446.9 h2 l1.5,-1 h2 l1.5,1 V452.9 l-1.5,1 h-2 l-1.5,-1 h-2 Z" fill="#4a4a4a" stroke="#222" stroke-width="0.6"/>
<path d="M335,445.7 L360,443.3 V456.5 L335,454.1 Z" fill="#c9c9c9" stroke="#2a2a2a" stroke-width="0.9"/>
<path d="M336,448.4 L359,447.4" stroke="#e6e6e6" stroke-width="2"/>
<rect x="360" y="440.7" width="10" height="18.4" fill="#5a5a5a" stroke="#222" stroke-width="0.9" rx="0" />
<rect x="361" y="441.7" width="8" height="8" fill="#a0a0a0" stroke="none" stroke-width="1" rx="0" />
<rect x="371" y="440.7" width="5" height="18.4" fill="#8c8c8c" stroke="#2a2a2a" stroke-width="0.8" rx="0" />
<rect x="376" y="443.9" width="12" height="12" fill="#4a4a4a" stroke="#222" stroke-width="0.8" rx="0" />
<path d="M378.2,443.9L376.6,455.9" stroke="#bdbdbd" stroke-width="0.7"/>
<path d="M380.6,443.9L379,455.9" stroke="#bdbdbd" stroke-width="0.7"/>
<path d="M383,443.9L381.4,455.9" stroke="#bdbdbd" stroke-width="0.7"/>
<path d="M385.4,443.9L383.8,455.9" stroke="#bdbdbd" stroke-width="0.7"/>
<path d="M387.8,443.9L386.2,455.9" stroke="#bdbdbd" stroke-width="0.7"/>
<path d="M388,445.9 L391.7,449.9 L388,453.9 Z" fill="#333"/>
<path d="M386,444.3H395.2V450.9H392.5" stroke="#222" stroke-width="1.8" fill="none"/>
<path d="M328,547.4 h2 l1.5,-1 h2 l1.5,1 V553.4 l-1.5,1 h-2 l-1.5,-1 h-2 Z" fill="#4a4a4a" stroke="#222" stroke-width="0.6"/>
<path d="M335,546.2 L360,543.8 V557 L335,554.6 Z" fill="#c9c9c9" stroke="#2a2a2a" stroke-width="0.9"/>
<path d="M336,548.9 L359,547.9" stroke="#e6e6e6" stroke-width="2"/>
<rect x="360" y="541.2" width="10" height="18.4" fill="#5a5a5a" stroke="#222" stroke-width="0.9" rx="0" />
<rect x="361" y="542.2" width="8" height="8" fill="#a0a0a0" stroke="none" stroke-width="1" rx="0" />
<rect x="371" y="541.2" width="5" height="18.4" fill="#8c8c8c" stroke="#2a2a2a" stroke-width="0.8" rx="0" />
<rect x="376" y="544.4" width="12" height="12" fill="#4a4a4a" stroke="#222" stroke-width="0.8" rx="0" />
<path d="M378.2,544.4L376.6,556.4" stroke="#bdbdbd" stroke-width="0.7"/>
<path d="M380.6,544.4L379,556.4" stroke="#bdbdbd" stroke-width="0.7"/>
<path d="M383,544.4L381.4,556.4" stroke="#bdbdbd" stroke-width="0.7"/>
<path d="M385.4,544.4L383.8,556.4" stroke="#bdbdbd" stroke-width="0.7"/>
<path d="M387.8,544.4L386.2,556.4" stroke="#bdbdbd" stroke-width="0.7"/>
<path d="M388,546.4 L391.7,550.4 L388,554.4 Z" fill="#333"/>
<path d="M386,544.8H395.2V551.4H392.5" stroke="#222" stroke-width="1.8" fill="none"/>
<path d="M328,646.4 h2 l1.5,-1 h2 l1.5,1 V652.4 l-1.5,1 h-2 l-1.5,-1 h-2 Z" fill="#4a4a4a" stroke="#222" stroke-width="0.6"/>
<path d="M335,645.2 L360,642.8 V656 L335,653.6 Z" fill="#c9c9c9" stroke="#2a2a2a" stroke-width="0.9"/>
<path d="M336,647.9 L359,646.9" stroke="#e6e6e6" stroke-width="2"/>
<rect x="360" y="640.2" width="10" height="18.4" fill="#5a5a5a" stroke="#222" stroke-width="0.9" rx="0" />
<rect x="361" y="641.2" width="8" height="8" fill="#a0a0a0" stroke="none" stroke-width="1" rx="0" />
<rect x="371" y="640.2" width="5" height="18.4" fill="#8c8c8c" stroke="#2a2a2a" stroke-width="0.8" rx="0" />
<rect x="376" y="643.4" width="12" height="12" fill="#4a4a4a" stroke="#222" stroke-width="0.8" rx="0" />
<path d="M378.2,643.4L376.6,655.4" stroke="#bdbdbd" stroke-width="0.7"/>
<path d="M380.6,643.4L379,655.4" stroke="#bdbdbd" stroke-width="0.7"/>
<path d="M383,643.4L381.4,655.4" stroke="#bdbdbd" stroke-width="0.7"/>
<path d="M385.4,643.4L383.8,655.4" stroke="#bdbdbd" stroke-width="0.7"/>
<path d="M387.8,643.4L386.2,655.4" stroke="#bdbdbd" stroke-width="0.7"/>
<path d="M388,645.4 L391.7,649.4 L388,653.4 Z" fill="#333"/>
<path d="M386,643.8H395.2V650.4H392.5" stroke="#222" stroke-width="1.8" fill="none"/>
<rect x="461.4" y="322" width="5.2" height="11" fill="#8c8c8c" stroke="#444" stroke-width="0.6" rx="0" />
<path d="M457,332 H471 L472.5,333.5 V345.4 H455.5 V333.5 Z" fill="#555" stroke="#222" stroke-width="0.8"/>
<rect x="456.5" y="334" width="7" height="7.4" fill="#9c9c9c" stroke="none" stroke-width="1" rx="0" />
<rect x="456" y="342.2" width="16" height="2.7" fill="#7c7c7c" stroke="none" stroke-width="1" rx="0" />
<rect x="457.8" y="345.4" width="12.4" height="12.8" fill="#4c4c4c" stroke="#222" stroke-width="0.8" rx="0" />
<path d="M458,348.6L470,346" stroke="#c9c9c9" stroke-width="0.9"/>
<path d="M458,351.6L470,349" stroke="#c9c9c9" stroke-width="0.9"/>
<path d="M458,354.6L470,352" stroke="#c9c9c9" stroke-width="0.9"/>
<path d="M458,357.6L470,355" stroke="#c9c9c9" stroke-width="0.9"/>
<rect x="458.4" y="358.2" width="11.2" height="5.2" fill="#8a8a8a" stroke="#444" stroke-width="0.7" rx="0" />
<rect x="481.4" y="362.3" width="2.4" height="8.7" fill="#8c8c8c" stroke="#444" stroke-width="0.6" rx="0" />
<rect x="473.2" y="370" width="12.6" height="12.9" fill="#8c8c8c" stroke="#333" stroke-width="0.8" rx="0" />
<path d="M472.6,382.9 H486.4 L487.9,384.4 V391.9 H471.1 V384.4 Z" fill="#555" stroke="#222" stroke-width="0.8"/>
<rect x="472.1" y="384.9" width="6.9" height="3" fill="#9c9c9c" stroke="none" stroke-width="1" rx="0" />
<rect x="471.6" y="388.7" width="15.8" height="2.7" fill="#7c7c7c" stroke="none" stroke-width="1" rx="0" />
<rect x="473.3" y="391.9" width="12.4" height="12.8" fill="#4c4c4c" stroke="#222" stroke-width="0.8" rx="0" />
<path d="M473.5,395.1L485.5,392.5" stroke="#c9c9c9" stroke-width="0.9"/>
<path d="M473.5,398.1L485.5,395.5" stroke="#c9c9c9" stroke-width="0.9"/>
<path d="M473.5,401.1L485.5,398.5" stroke="#c9c9c9" stroke-width="0.9"/>
<path d="M473.5,404.1L485.5,401.5" stroke="#c9c9c9" stroke-width="0.9"/>
<rect x="468" y="420.6" width="5.5" height="6.8" fill="#1e1e1e" stroke="none" stroke-width="1" rx="0" />
<rect x="473" y="417.6" width="12.4" height="12.8" fill="#4c4c4c" stroke="#222" stroke-width="0.8" rx="0" />
<path d="M476,418L473.8,430" stroke="#c9c9c9" stroke-width="0.9"/>
<path d="M478.9,418L476.7,430" stroke="#c9c9c9" stroke-width="0.9"/>
<path d="M481.8,418L479.6,430" stroke="#c9c9c9" stroke-width="0.9"/>
<path d="M484.7,418L482.5,430" stroke="#c9c9c9" stroke-width="0.9"/>
<rect x="485.4" y="415.5" width="7.6" height="18.5" fill="#5a5a5a" stroke="#222" stroke-width="0.8" rx="0" />
<rect x="486.2" y="425.5" width="6" height="7.5" fill="#b0b0b0" stroke="none" stroke-width="1" rx="0" />
<rect x="493" y="402.2" width="5.7" height="43.8" fill="#848484" stroke="#333" stroke-width="0.8" rx="0" />
<path d="M498.7,405 H515.5 Q519.2,405 519.2,408.7 V439 Q519.2,442.8 515.5,442.8 H498.7 Z" fill="#d2d2d2" stroke="#4a4a4a" stroke-width="1"/>
<rect x="519.2" y="421.6" width="8.8" height="4.8" fill="#a8a8a8" stroke="#555" stroke-width="0.7" rx="0" />
<circle cx="254.5" cy="550" r="36.3" fill="#9b9b9b" stroke="#b9b9b9" stroke-width="1.4" />
<circle cx="254.5" cy="550" r="14" fill="#a6a6a6" stroke="#bcbcbc" stroke-width="1" />
<path d="M254.5,512V528M216,550H231M278,550H293M254.5,572V588" stroke="#e8372c" stroke-width="5.3" fill="none"/>
<circle cx="254.5" cy="527.5" r="9.3" fill="#e8372c" stroke="none" stroke-width="1" />
<circle cx="230.5" cy="550" r="9.3" fill="#e8372c" stroke="none" stroke-width="1" />
<circle cx="278" cy="550" r="9.3" fill="#e8372c" stroke="none" stroke-width="1" />
<circle cx="254.5" cy="572.5" r="9.3" fill="#e8372c" stroke="none" stroke-width="1" />
<circle cx="254.5" cy="550" r="9.3" fill="#e8372c" stroke="none" stroke-width="1" />
<polyline points="254.5,550 208.5,593" fill="none" stroke="#e8372c" stroke-width="3.6" stroke-linejoin="round" />
<path d="M236,514 Q219,526 216.5,540" stroke="#222" stroke-width="1.2" fill="none"/>
<path d="M211.5,533.5 L221.5,536 L214.5,544 Z" fill="#111"/>
<g transform="rotate(25 241 590)"><rect x="236" y="584.5" width="10" height="10" fill="#fff" stroke="#444" stroke-width="1.1"/><path d="M236,587 L241,592 L246,587" stroke="#444" stroke-width="1" fill="none"/></g>
<g transform="translate(207,594.5) rotate(135)"><rect x="17" y="-11.5" width="47" height="23" fill="url(#coilg)" stroke="#1a1a1a" stroke-width="0.8"/><rect x="15" y="-12.2" width="2.6" height="24.4" fill="#d9d9d9" stroke="#333" stroke-width="0.7"/><path d="M15,-11.5 L4,-2.6 H1 V2.6 H4 L15,11.5 Z" fill="#bdbdbd" stroke="#333" stroke-width="0.8"/><rect x="-1" y="-1.6" width="3" height="3.2" fill="#e6e6e6" stroke="#333" stroke-width="0.6"/></g>
<polyline points="206,769 194.5,781 194.5,800" fill="none" stroke="#444" stroke-width="3.2" stroke-linejoin="round" />
<polyline points="206,769 194.5,781 194.5,800" fill="none" stroke="#bdbdbd" stroke-width="1.4" stroke-linejoin="round" />
<polyline points="207,770 214.5,780 214.5,800" fill="none" stroke="#e2582e" stroke-width="1.3" stroke-linejoin="round" />
<polyline points="209,770 225,781 225,800" fill="none" stroke="#0b9547" stroke-width="1.3" stroke-linejoin="round" />
<circle cx="172.5" cy="769" r="6" fill="#ef7d3a" stroke="none" stroke-width="1" />
<circle cx="207" cy="754" r="6" fill="#0b9547" stroke="none" stroke-width="1" />
<circle cx="238" cy="769" r="6" fill="#f7e52f" stroke="#222" stroke-width="1.1" />
<circle cx="207" cy="901" r="2.8" fill="#111" stroke="none" stroke-width="1" />
<path d="M207,901V920.5M198,920.5H216" stroke="#555" stroke-width="1.5" fill="none"/>
<polyline points="207,700 207,765" fill="none" stroke="#e8372c" stroke-width="6" stroke-linejoin="round" />
<path d="M204,764 L207,770.5 L210,764 Z" fill="#e8372c"/>
<rect x="377.5" y="728" width="26.5" height="52" fill="url(#cyl)" stroke="#444" stroke-width="0.8" rx="0" />
<rect x="365" y="764" width="10.5" height="16" fill="#9a9a9a" stroke="#333" stroke-width="0.8" rx="0" />
<rect x="367" y="760.5" width="6" height="4" fill="#777" stroke="#333" stroke-width="0.6" rx="0" />
<rect x="375" y="758" width="3" height="22" fill="#555" stroke="none" stroke-width="1" rx="0" />
<rect x="362.5" y="780" width="43.5" height="9" fill="#8f8f8f" stroke="#444" stroke-width="0.8" rx="0" />
<path d="M377.5,789 H402.5 Q399,794 396.5,799 L394,810 V815 H387.5 V810 Z" fill="#a8a8a8" stroke="#333" stroke-width="0.8"/>
<path d="M398,792 Q394,798 393.5,806" stroke="#555" stroke-width="1.2" fill="none"/>
<rect x="387" y="810" width="7.5" height="5" fill="#bcbcbc" stroke="#444" stroke-width="0.7" rx="0" />
<rect x="536" y="663.3" width="103.7" height="67.5" fill="#d2d2d2" stroke="#555" stroke-width="2" rx="0" />
<rect x="541" y="667" width="13.7" height="59.7" fill="#8b8b8b" stroke="none" stroke-width="1" rx="0" />
<rect x="557" y="667" width="13.7" height="59.7" fill="#8b8b8b" stroke="none" stroke-width="1" rx="0" />
<rect x="573" y="667" width="13.7" height="59.7" fill="#8b8b8b" stroke="none" stroke-width="1" rx="0" />
<rect x="589" y="667" width="13.7" height="59.7" fill="#8b8b8b" stroke="none" stroke-width="1" rx="0" />
<rect x="605" y="667" width="13.7" height="59.7" fill="#8b8b8b" stroke="none" stroke-width="1" rx="0" />
<rect x="621" y="667" width="13.7" height="59.7" fill="#8b8b8b" stroke="none" stroke-width="1" rx="0" />
<path d="M546,673.7H565.5" stroke="#2b2b2b" stroke-width="4" stroke-linecap="round"/>
<path d="M578,673.7H597.5" stroke="#2b2b2b" stroke-width="4" stroke-linecap="round"/>
<path d="M610,673.7H629.5" stroke="#2b2b2b" stroke-width="4" stroke-linecap="round"/>
<path d="M563,720H581" stroke="#2b2b2b" stroke-width="4" stroke-linecap="round"/>
<path d="M595,720H613" stroke="#2b2b2b" stroke-width="4" stroke-linecap="round"/>
<circle cx="547.8" cy="696.7" r="3.8" fill="#d0d0d0" stroke="#efefef" stroke-width="1" />
<circle cx="563.75" cy="696.7" r="3.8" fill="#d0d0d0" stroke="#efefef" stroke-width="1" />
<circle cx="579.7" cy="696.7" r="3.8" fill="#d0d0d0" stroke="#efefef" stroke-width="1" />
<circle cx="595.65" cy="696.7" r="3.8" fill="#d0d0d0" stroke="#efefef" stroke-width="1" />
<circle cx="611.6" cy="696.7" r="3.8" fill="#d0d0d0" stroke="#efefef" stroke-width="1" />
<circle cx="627.55" cy="696.7" r="3.8" fill="#d0d0d0" stroke="#efefef" stroke-width="1" />
<polyline points="548,720 530,720" fill="none" stroke="#e5237f" stroke-width="4" stroke-linejoin="round" />
<polyline points="548,720 530,712.3" fill="none" stroke="#d22c7d" stroke-width="2.0" stroke-linejoin="round" />
<polyline points="548,720 530,728.2" fill="none" stroke="#d22c7d" stroke-width="2.0" stroke-linejoin="round" />
<circle cx="548" cy="720" r="4.2" fill="#e5237f" stroke="none" stroke-width="1" />
<polyline points="627.5,720 666,720" fill="none" stroke="#45268a" stroke-width="4" stroke-linejoin="round" />
<circle cx="627.5" cy="720" r="4.2" fill="#45268a" stroke="none" stroke-width="1" />
<rect x="665" y="692" width="26.7" height="39" fill="#d6d6d6" stroke="#c4c4c4" stroke-width="0.8" rx="5.5" />
<circle cx="678.5" cy="707.5" r="11" fill="url(#knob)" stroke="#9a9a9a" stroke-width="0.8" />
<path d="M668,697.5 L689,717.5" stroke="#888" stroke-width="4.2" stroke-linecap="round"/>
<path d="M667.5,671H690M678.7,671V692" stroke="#45268a" stroke-width="4.5" fill="none"/>
<path d="M637,482 H667 L663,485.5 L667,490 H637 L641,485.5 Z" fill="#8d8d8d" stroke="#333" stroke-width="0.8"/>
<rect x="647.5" y="490" width="8.5" height="4" fill="#aaa" stroke="#444" stroke-width="0.7" rx="0" />
<rect x="614" y="494" width="64" height="10.5" fill="#8f8f8f" stroke="#444" stroke-width="0.9" rx="0" />
<path d="M625,494V504.5" stroke="#444" stroke-width="0.9"/>
<rect x="626" y="504.5" width="50" height="26.5" fill="url(#gen)" stroke="#555" stroke-width="0.9" rx="0" />
<rect x="625" y="531" width="53" height="10" fill="#8f8f8f" stroke="#444" stroke-width="0.9" rx="0" />
<rect x="614" y="541" width="64" height="11.5" fill="#8f8f8f" stroke="#444" stroke-width="0.9" rx="0" />
<path d="M625,541V552.5" stroke="#444" stroke-width="0.9"/>
<rect x="648" y="552.5" width="21" height="5.5" fill="#9a9a9a" stroke="#444" stroke-width="0.8" rx="0" />
<path d="M655,558V563M664,558V563" stroke="#333" stroke-width="1.8"/>
<rect x="405" y="874" width="117.5" height="74" fill="#ececec" stroke="#666" stroke-width="1.1" rx="0" />
<polyline points="416,885 510,885" fill="none" stroke="#d22c7d" stroke-width="2.0" stroke-linejoin="round" />
<polyline points="510.3,870 510.3,885" fill="none" stroke="#d22c7d" stroke-width="2.0" stroke-linejoin="round" />
<path d="M416,890V936" stroke="#222" stroke-width="1.3"/>
<rect x="410" y="896" width="12" height="33.5" fill="#ececec" stroke="#222" stroke-width="1.4" rx="0" />
<rect x="413.4" y="897.5" width="5.2" height="30.5" fill="#fff" stroke="#222" stroke-width="1.1" rx="0" />
<circle cx="416" cy="885" r="5" fill="#fff" stroke="#222" stroke-width="1.5" />
<path d="M413,888.2L419,881.8" stroke="#222" stroke-width="1.5"/>
<circle cx="416" cy="940.5" r="5" fill="#fff" stroke="#222" stroke-width="1.5" />
<path d="M413,943.7L419,937.3" stroke="#222" stroke-width="1.5"/>
<path d="M447.5,890V936" stroke="#222" stroke-width="1.3"/>
<rect x="441.5" y="896" width="12" height="33.5" fill="#ececec" stroke="#222" stroke-width="1.4" rx="0" />
<rect x="444.9" y="897.5" width="5.2" height="30.5" fill="#fff" stroke="#222" stroke-width="1.1" rx="0" />
<circle cx="447.5" cy="885" r="5" fill="#fff" stroke="#222" stroke-width="1.5" />
<path d="M444.5,888.2L450.5,881.8" stroke="#222" stroke-width="1.5"/>
<circle cx="447.5" cy="940.5" r="5" fill="#fff" stroke="#222" stroke-width="1.5" />
<path d="M444.5,943.7L450.5,937.3" stroke="#222" stroke-width="1.5"/>
<path d="M479,890V936" stroke="#222" stroke-width="1.3"/>
<rect x="473" y="896" width="12" height="33.5" fill="#ececec" stroke="#222" stroke-width="1.4" rx="0" />
<rect x="476.4" y="897.5" width="5.2" height="30.5" fill="#fff" stroke="#222" stroke-width="1.1" rx="0" />
<circle cx="479" cy="885" r="5" fill="#fff" stroke="#222" stroke-width="1.5" />
<path d="M476,888.2L482,881.8" stroke="#222" stroke-width="1.5"/>
<circle cx="479" cy="940.5" r="5" fill="#fff" stroke="#222" stroke-width="1.5" />
<path d="M476,943.7L482,937.3" stroke="#222" stroke-width="1.5"/>
<path d="M510,890V936" stroke="#222" stroke-width="1.3"/>
<rect x="504" y="896" width="12" height="33.5" fill="#ececec" stroke="#222" stroke-width="1.4" rx="0" />
<rect x="507.4" y="897.5" width="5.2" height="30.5" fill="#fff" stroke="#222" stroke-width="1.1" rx="0" />
<circle cx="510" cy="885" r="5" fill="#fff" stroke="#222" stroke-width="1.5" />
<path d="M507,888.2L513,881.8" stroke="#222" stroke-width="1.5"/>
<circle cx="510" cy="940.5" r="5" fill="#fff" stroke="#222" stroke-width="1.5" />
<path d="M507,943.7L513,937.3" stroke="#222" stroke-width="1.5"/>
<path d="M389.5,1047.5H455.5V1092.5H389.5V1082.5H386.5V1057.5H389.5Z" fill="#b4b4b4" stroke="#8c8c8c" stroke-width="1"/>
<path d="M417,1047.5V1062.5" stroke="#111" stroke-width="2.6"/>
<circle cx="417" cy="1062.5" r="3.1" fill="#111" stroke="none" stroke-width="1" />
<path d="M417,1062.5L410,1077.5" stroke="#111" stroke-width="2.2"/>
<path d="M417,1079V1092.5" stroke="#111" stroke-width="2.6"/>
<path d="M448,1047.5V1062.5" stroke="#111" stroke-width="2.6"/>
<circle cx="448" cy="1062.5" r="3.1" fill="#111" stroke="none" stroke-width="1" />
<path d="M448,1062.5L441,1077.5" stroke="#111" stroke-width="2.2"/>
<path d="M448,1079V1092.5" stroke="#111" stroke-width="2.6"/>
<path d="M398,1070.5H448" stroke="#111" stroke-width="1.2" stroke-dasharray="4 2.5"/>
<g transform="rotate(203 396 1070.5)"><path d="M396,1069.3 L433,1065.7 V1075.3 L396,1071.9 Z" fill="#7a7a7a"/></g>
<circle cx="396" cy="1070.5" r="3.6" fill="#8a8a8a" stroke="none" stroke-width="1" />
<path d="M467.5,1047.5H539V1057.5H542V1082.5H539V1092.5H467.5Z" fill="#b4b4b4" stroke="#8c8c8c" stroke-width="1"/>
<path d="M479,1047.5V1062.5" stroke="#111" stroke-width="2.6"/>
<circle cx="479" cy="1062.5" r="3.1" fill="#111" stroke="none" stroke-width="1" />
<path d="M479,1062.5V1077.5" stroke="#111" stroke-width="2.2"/>
<path d="M510,1047.5V1062.5" stroke="#111" stroke-width="2.6"/>
<circle cx="510" cy="1062.5" r="3.1" fill="#111" stroke="none" stroke-width="1" />
<path d="M510,1062.5V1077.5" stroke="#111" stroke-width="2.2"/>
<path d="M473,1079V1092.5" stroke="#111" stroke-width="2.2"/>
<path d="M484.5,1079V1092.5" stroke="#111" stroke-width="2.2"/>
<path d="M504,1079V1092.5" stroke="#111" stroke-width="2.2"/>
<path d="M516,1079V1092.5" stroke="#111" stroke-width="2.2"/>
<path d="M479,1070.5H528" stroke="#111" stroke-width="1.2" stroke-dasharray="4 2.5"/>
<g transform="rotate(-2 529.5 1070.5)"><path d="M529.5,1069.3 L564.5,1065.7 V1075.3 L529.5,1071.9 Z" fill="#7a7a7a"/></g>
<circle cx="529.5" cy="1070.5" r="3.6" fill="#8a8a8a" stroke="none" stroke-width="1" />
<rect x="484.45" y="1124" width="11.5" height="17" fill="#fff" stroke="#333" stroke-width="1.2" rx="0" />
<path d="M484.45,1135.5L490.2,1130L495.95,1135.5" stroke="#333" stroke-width="1.2" fill="none"/>
<rect x="615" y="860.3" width="425.5" height="150.2" fill="none" stroke="#0b9547" stroke-width="3.4" rx="0" />
<circle cx="670" cy="949.4" r="36.5" fill="#474747" stroke="none" stroke-width="1" />
<circle cx="670" cy="949.4" r="32.8" fill="#c4c4c4" stroke="none" stroke-width="1" />
<path d="M641,954.4 A29.5,29.5 0 1 1 699,954.4 Q698.5,958.9 693,959.4 Q670,962.9 647,959.4 Q641.5,958.9 641,954.4 Z" fill="#555"/>
<path d="M670,921.9V927.9M642,949.4H648.5M691.5,949.4H698M649.5,929.4l4.5,5" stroke="#cfcfcf" stroke-width="2.4" fill="none"/>
<path d="M660.2,925.4L669.4,958.2L672.2,957.4Z" fill="#e2e2e2"/>
<rect x="658.3" y="963.9" width="23.4" height="14.5" fill="#a8d8f0" stroke="#333" stroke-width="1" rx="0" />
<rect x="661.2" y="961.2" width="2.8" height="2.7" fill="#c4c4c4" stroke="#333" stroke-width="0.8" rx="0" />
<rect x="675" y="961.2" width="2.8" height="2.7" fill="#c4c4c4" stroke="#333" stroke-width="0.8" rx="0" />
<path d="M660.5,967.7h4M662.5,965.7v4M674.5,967.7h4" stroke="#123" stroke-width="1"/>
<circle cx="778.8" cy="949.4" r="36.5" fill="#474747" stroke="none" stroke-width="1" />
<circle cx="778.8" cy="949.4" r="32.8" fill="#c4c4c4" stroke="none" stroke-width="1" />
<path d="M749.8,954.4 A29.5,29.5 0 1 1 807.8,954.4 Q807.3,958.9 801.8,959.4 Q778.8,962.9 755.8,959.4 Q750.3,958.9 749.8,954.4 Z" fill="#555"/>
<path d="M778.8,921.9V927.9M750.8,949.4H757.3M800.3,949.4H806.8M758.3,929.4l4.5,5" stroke="#cfcfcf" stroke-width="2.4" fill="none"/>
<path d="M769,925.4L778.2,958.2L781,957.4Z" fill="#e2e2e2"/>
<path d="M766.8,970.4V976.9H790.8V970.4" stroke="#222" stroke-width="1.1" fill="none"/>
<rect x="777.5" y="962.4" width="2.6" height="10" fill="#d33" stroke="#611" stroke-width="0.5" rx="0" />
<circle cx="778.8" cy="973.4" r="2.6" fill="#d33" stroke="#611" stroke-width="0.5" />
<circle cx="887.4" cy="949.4" r="36.5" fill="#474747" stroke="none" stroke-width="1" />
<circle cx="887.4" cy="949.4" r="32.8" fill="#c4c4c4" stroke="none" stroke-width="1" />
<path d="M858.4,954.4 A29.5,29.5 0 1 1 916.4,954.4 Q915.9,958.9 910.4,959.4 Q887.4,962.9 864.4,959.4 Q858.9,958.9 858.4,954.4 Z" fill="#555"/>
<path d="M887.4,921.9V927.9M859.4,949.4H865.9M908.9,949.4H915.4M866.9,929.4l4.5,5" stroke="#cfcfcf" stroke-width="2.4" fill="none"/>
<path d="M877.6,925.4L886.8,958.2L889.6,957.4Z" fill="#e2e2e2"/>
<path d="M867.4,966.9 L875.4,970.4 L882.4,970.4 L883.4,968.4 H892.4 V970.4 L899.4,966.4 L901.4,968.9 L894.4,973.4 V978.4 H878.4 L874.4,972.9 L867.4,969.4 Z" fill="#e4e4e4" stroke="#222" stroke-width="0.9"/>
<path d="M894.4,967.4 q5,-5 9,0" stroke="#222" stroke-width="0.9" fill="none"/>
<circle cx="993.3" cy="949.4" r="36.5" fill="#474747" stroke="none" stroke-width="1" />
<circle cx="993.3" cy="949.4" r="32.8" fill="#c4c4c4" stroke="none" stroke-width="1" />
<path d="M964.3,954.4 A29.5,29.5 0 1 1 1022.3,954.4 Q1021.8,958.9 1016.3,959.4 Q993.3,962.9 970.3,959.4 Q964.8,958.9 964.3,954.4 Z" fill="#555"/>
<path d="M993.3,921.9V927.9M965.3,949.4H971.8M1014.8,949.4H1021.3M972.8,929.4l4.5,5" stroke="#cfcfcf" stroke-width="2.4" fill="none"/>
<path d="M983.5,925.4L992.7,958.2L995.5,957.4Z" fill="#e2e2e2"/>
<rect x="987.3" y="961.2" width="11.5" height="20" fill="#6a62b8" stroke="#2f2a78" stroke-width="1" rx="1.2" />
<rect x="989.3" y="963.7" width="7.5" height="6" fill="#d8d8f4" stroke="none" stroke-width="1" rx="0" />
<path d="M998.8,966.4 q4,1 3.5,6 v5 q-0.5,3 -3.5,2" stroke="#2f2a78" stroke-width="1.3" fill="none"/>
<polyline points="665.5,876 654,887.5 654,896" fill="none" stroke="#222" stroke-width="1.2" stroke-linejoin="round" />
<path d="M649,896H659" stroke="#222" stroke-width="1.3"/>
<polyline points="740,876 751,888 751,915" fill="none" stroke="#0f9bd7" stroke-width="1.15" stroke-linejoin="round" />
<polyline points="768,876 779,887 779,914" fill="none" stroke="#8a8758" stroke-width="3.1" stroke-linejoin="round" />
<polyline points="768,876 779,887 779,914" fill="none" stroke="#f3ec84" stroke-width="2.3" stroke-linejoin="round" />
<polyline points="768,876 779,887 779,914" fill="none" stroke="#3c3c2a" stroke-width="3.1" stroke-linejoin="round" stroke-dasharray="1.6 3.2"/>
<polyline points="768,876 779,887 779,914" fill="none" stroke="#f6f08e" stroke-width="1.0" stroke-linejoin="round" />
<polyline points="851,876 860,887.5 860,915" fill="none" stroke="#0b9547" stroke-width="1.15" stroke-linejoin="round" />
<polyline points="859,873 874,873 887,887.5 887,913" fill="none" stroke="#ef7d3a" stroke-width="1.2" stroke-linejoin="round" />
<circle cx="698" cy="926" r="10.7" fill="#fff" stroke="#1a1a1a" stroke-width="1.3" />
<path d="M687.5,926H708.5" stroke="#8a8a8a" stroke-width="1.4"/><path d="M698,915.5V936.5" stroke="#222" stroke-width="0.9"/>
<circle cx="806" cy="926" r="10.7" fill="#fff" stroke="#1a1a1a" stroke-width="1.3" />
<path d="M795.5,926H816.5" stroke="#8a8a8a" stroke-width="1.4"/><path d="M806,915.5V936.5" stroke="#222" stroke-width="0.9"/>
<circle cx="915" cy="926" r="10.7" fill="#fff" stroke="#1a1a1a" stroke-width="1.3" />
<path d="M904.5,926H925.5" stroke="#8a8a8a" stroke-width="1.4"/><path d="M915,915.5V936.5" stroke="#222" stroke-width="0.9"/>
<circle cx="1020" cy="926" r="10.7" fill="#fff" stroke="#1a1a1a" stroke-width="1.3" />
<path d="M1009.5,926H1030.5" stroke="#8a8a8a" stroke-width="1.4"/><path d="M1020,915.5V936.5" stroke="#222" stroke-width="0.9"/>
<circle cx="751" cy="926" r="10.7" fill="#0f9bd7" stroke="#1a1a1a" stroke-width="1.3" />
<path d="M740.5,926H761.5" stroke="#8a8a8a" stroke-width="1.4"/><path d="M751,915.5V936.5" stroke="#222" stroke-width="0.9"/>
<circle cx="860" cy="926" r="10.7" fill="#0b9547" stroke="#1a1a1a" stroke-width="1.3" />
<path d="M849.5,926H870.5" stroke="#8a8a8a" stroke-width="1.4"/><path d="M860,915.5V936.5" stroke="#222" stroke-width="0.9"/>
<rect x="721" y="820" width="23.5" height="26" fill="#fff" stroke="#8a8a8a" stroke-width="2.2" rx="0" />
<path d="M723,829 L732.8,837 L742.5,829" stroke="#8a8a8a" stroke-width="2" fill="none"/>
<polyline points="734.5,820 756,799 771,799" fill="none" stroke="#222" stroke-width="1.2" stroke-linejoin="round" />
<path d="M771,791V806" stroke="#222" stroke-width="1.3"/>
<rect x="1022.5" y="1040" width="12" height="17" fill="#fff" stroke="#333" stroke-width="1.2" rx="0" />
<path d="M1022.5,1051.5L1028.5,1046L1034.5,1051.5" stroke="#333" stroke-width="1.2" fill="none"/>
<polyline points="733,846 733,873" fill="none" stroke="#0b9547" stroke-width="6" stroke-linejoin="round" />
<polyline points="733,800 733,820" fill="none" stroke="#0b9547" stroke-width="6" stroke-linejoin="round" />
<rect x="648" y="1093" width="12" height="17" fill="#fff" stroke="#858585" stroke-width="1.2" rx="0" />
<path d="M648,1104.5L654,1099L660,1104.5" stroke="#858585" stroke-width="1.2" fill="none"/>
<rect x="648" y="1227" width="12" height="17" fill="#fff" stroke="#858585" stroke-width="1.2" rx="0" />
<path d="M648,1238.5L654,1233L660,1238.5" stroke="#858585" stroke-width="1.2" fill="none"/>
<path d="M661,1193.5H672" stroke="#9a9a9a" stroke-width="1.2" stroke-dasharray="3 2"/>
<path d="M674,1187 Q668,1210 690,1225" stroke="#8d8d8d" stroke-width="5" fill="none"/>
<g transform="rotate(-14 691 1229)"><rect x="688" y="1220" width="5" height="17" fill="#a8a8a8" stroke="#777" stroke-width="0.8"/></g>
<circle cx="677" cy="1181" r="7" fill="#a9a9a9" stroke="#7a7a7a" stroke-width="1" />
<circle cx="677" cy="1181" r="3.2" fill="#6f6f6f" stroke="none" stroke-width="1" />
<path d="M724.5,1094H779.5V1104H782.5V1130H779.5V1140H724.5Z" fill="#b4b4b4" stroke="#8c8c8c" stroke-width="1"/>
<path d="M751,1094V1109" stroke="#111" stroke-width="2.6"/>
<circle cx="751" cy="1109" r="3.1" fill="#111" stroke="none" stroke-width="1" />
<path d="M751,1109L757,1124" stroke="#111" stroke-width="2.2"/>
<path d="M751,1125V1140" stroke="#111" stroke-width="2.6"/>
<path d="M756,1117H770" stroke="#111" stroke-width="1.2" stroke-dasharray="4 2.5"/>
<g transform="rotate(-25 771 1117)"><path d="M771,1115.8 L809,1112.2 V1121.8 L771,1118.4 Z" fill="#7a7a7a"/></g>
<circle cx="771" cy="1117" r="3.6" fill="#8a8a8a" stroke="none" stroke-width="1" />
<polyline points="751,1140 751,1164.5" fill="none" stroke="#8a8758" stroke-width="3.1" stroke-linejoin="round" />
<polyline points="751,1140 751,1164.5" fill="none" stroke="#f3ec84" stroke-width="2.3" stroke-linejoin="round" />
<polyline points="751,1140 751,1164.5" fill="none" stroke="#3c3c2a" stroke-width="3.1" stroke-linejoin="round" stroke-dasharray="1.6 3.2"/>
<polyline points="751,1140 751,1164.5" fill="none" stroke="#f6f08e" stroke-width="1.0" stroke-linejoin="round" />
<rect x="745" y="1164.5" width="12" height="16.5" fill="#fff" stroke="#333" stroke-width="1.2" rx="0" />
<path d="M745,1175.75L751,1170.25L757,1175.75" stroke="#333" stroke-width="1.2" fill="none"/>
<path d="M751,1181V1193" stroke="#222" stroke-width="1.3"/>
<rect x="743.5" y="1192.5" width="15" height="8" fill="#808080" stroke="none" stroke-width="1" rx="0" />
<rect x="743.5" y="1226" width="15" height="7.5" fill="#808080" stroke="none" stroke-width="1" rx="0" />
<circle cx="751" cy="1212.5" r="14.6" fill="#cbcbcb" stroke="#6a6a6a" stroke-width="1.2" />
<path d="M751,1233.5V1244.5M745,1244.5H757" stroke="#222" stroke-width="1.4" fill="none"/>
<path d="M766,1174 Q780,1169 794,1173 L791,1187 Q780,1184 770,1188 Z" fill="#d9d9d9" stroke="#9a9a9a" stroke-width="1"/>
<path d="M774,1200 q-2.5,-4 0,-8 q2.5,-4 0,-8 q-1.5,-3 0,-5" stroke="#777" stroke-width="1.3" fill="none"/><path d="M771.8,1181.5l2.2,-3.5l2.2,3.5z" fill="#777"/>
<path d="M779,1200 q-2.5,-4 0,-8 q2.5,-4 0,-8 q-1.5,-3 0,-5" stroke="#777" stroke-width="1.3" fill="none"/><path d="M776.8,1181.5l2.2,-3.5l2.2,3.5z" fill="#777"/>
<path d="M784,1200 q-2.5,-4 0,-8 q2.5,-4 0,-8 q-1.5,-3 0,-5" stroke="#777" stroke-width="1.3" fill="none"/><path d="M781.8,1181.5l2.2,-3.5l2.2,3.5z" fill="#777"/>
<circle cx="798" cy="1175" r="2.8" fill="#bdbdbd" stroke="#9a9a9a" stroke-width="0.8" />
<path d="M796,1180 L791,1192 H787 L785,1201" stroke="#a8a8a8" stroke-width="2.6" fill="none" stroke-linejoin="round"/>
<path d="M820,1094H875V1104H878V1130H875V1140H820Z" fill="#b4b4b4" stroke="#8c8c8c" stroke-width="1"/>
<path d="M846,1094V1109" stroke="#111" stroke-width="2.6"/>
<circle cx="846" cy="1109" r="3.1" fill="#111" stroke="none" stroke-width="1" />
<path d="M846,1109L852,1124" stroke="#111" stroke-width="2.2"/>
<path d="M846,1125V1140" stroke="#111" stroke-width="2.6"/>
<path d="M851,1117H865" stroke="#111" stroke-width="1.2" stroke-dasharray="4 2.5"/>
<g transform="rotate(-25 866 1117)"><path d="M866,1115.8 L904,1112.2 V1121.8 L866,1118.4 Z" fill="#7a7a7a"/></g>
<circle cx="866" cy="1117" r="3.6" fill="#8a8a8a" stroke="none" stroke-width="1" />
<polyline points="846,1140 846,1166" fill="none" stroke="#d9805a" stroke-width="2" stroke-linejoin="round" />
<polyline points="846,1183 846,1216" fill="none" stroke="#d9805a" stroke-width="2" stroke-linejoin="round" />
<rect x="840" y="1166" width="12" height="17" fill="#fff" stroke="#333" stroke-width="1.2" rx="0" />
<path d="M840,1177.5L846,1172L852,1177.5" stroke="#333" stroke-width="1.2" fill="none"/>
<rect x="822" y="1215" width="35" height="22.5" fill="url(#cylv)" stroke="#333" stroke-width="0.8" rx="0" />
<rect x="857" y="1220" width="3.5" height="10" fill="#9a9a9a" stroke="#444" stroke-width="0.6" rx="0" />
<path d="M797,1222 L821,1217 V1237.5 L817,1243 H799 L795.5,1238 V1226 Z" fill="#9c9c9c" stroke="#444" stroke-width="0.8"/>
<circle cx="807.5" cy="1232.5" r="8.5" fill="#c4c4c4" stroke="#444" stroke-width="0.8" />
<circle cx="807.5" cy="1233.5" r="3.3" fill="#e6e6e6" stroke="#555" stroke-width="0.7" />
<circle cx="806" cy="1226" r="5" fill="#2a2a2a" stroke="none" stroke-width="1" />
<circle cx="799.5" cy="1226" r="1.8" fill="#ddd" stroke="#444" stroke-width="0.5" />
<circle cx="815" cy="1226" r="1.8" fill="#ddd" stroke="#444" stroke-width="0.5" />
<circle cx="800" cy="1241.5" r="1.8" fill="#ddd" stroke="#444" stroke-width="0.5" />
<circle cx="816" cy="1241.5" r="1.8" fill="#ddd" stroke="#444" stroke-width="0.5" />
<polyline points="846,1215 856,1196 864,1196" fill="none" stroke="#222" stroke-width="1.3" stroke-linejoin="round" />
<rect x="864" y="1190.75" width="17" height="10.5" fill="#fff" stroke="#222" stroke-width="1.3" rx="0" />
<path d="M869.5,1190.75L875,1196L869.5,1201.25" stroke="#222" stroke-width="1.3" fill="none"/>
<path d="M881,1196H888M888,1189.5V1202.5" stroke="#222" stroke-width="1.3" fill="none"/>
<path d="M869,1229 Q882,1223.5 895,1227.5 L892.5,1241.5 Q882,1238.5 872.5,1243 Z" fill="#d9d9d9" stroke="#999" stroke-width="1"/>
<path d="M875.5,1230 L881.5,1245" stroke="#777" stroke-width="1.3"/>
<path d="M915.6,1094H971V1104H974V1130H971V1140H915.6Z" fill="#b4b4b4" stroke="#8c8c8c" stroke-width="1"/>
<path d="M943.6,1094V1109" stroke="#111" stroke-width="2.6"/>
<circle cx="943.6" cy="1109" r="3.1" fill="#111" stroke="none" stroke-width="1" />
<path d="M943.6,1109V1124" stroke="#111" stroke-width="2.2"/>
<path d="M938,1125V1140M949,1125V1140" stroke="#111" stroke-width="2.4"/>
<path d="M947,1117H962" stroke="#555" stroke-width="1.3" stroke-dasharray="4 2.5"/>
<g transform="rotate(-1.5 963 1116.5)"><path d="M963,1115.3 L997,1111.7 V1121.3 L963,1117.9 Z" fill="#6e6e6e"/></g>
<circle cx="963" cy="1116.5" r="3.6" fill="#8a8a8a" stroke="none" stroke-width="1" />
<polyline points="938,1140 938,1166.5" fill="none" stroke="#222" stroke-width="1.3" stroke-linejoin="round" />
<rect x="931.75" y="1166.5" width="12.5" height="17" fill="#fff" stroke="#333" stroke-width="1.2" rx="0" />
<path d="M931.75,1178L938,1172.5L944.25,1178" stroke="#333" stroke-width="1.2" fill="none"/>
<polyline points="938,1183.5 949,1199" fill="none" stroke="#222" stroke-width="1.3" stroke-linejoin="round" />
<polyline points="949,1140 949,1151 1011.5,1151" fill="none" stroke="#444" stroke-width="1.3" stroke-linejoin="round" />
<rect x="1011.5" y="1145.5" width="17.5" height="11" fill="#fff" stroke="#222" stroke-width="1.3" rx="0" />
<path d="M1023.25,1145.5L1017.75,1151L1023.25,1156.5" stroke="#222" stroke-width="1.3" fill="none"/>
<polyline points="1029,1151 1056,1151" fill="none" stroke="#444" stroke-width="1.3" stroke-linejoin="round" />
<rect x="1011.5" y="1161.5" width="17.5" height="12" fill="#fff" stroke="#222" stroke-width="1.3" rx="0" />
<path d="M1023.25,1161.5L1017.75,1167.5L1023.25,1173.5" stroke="#222" stroke-width="1.3" fill="none"/>
<path d="M1011.5,1167.5H1005M1005,1161V1174" stroke="#222" stroke-width="1.3" fill="none"/>
<path d="M1029,1167.5H1052Q1056,1167 1060,1162" stroke="#333" stroke-width="1.3" fill="none"/>
<circle cx="1074" cy="1151" r="17.5" fill="#d6d6d6" stroke="#8c8c8c" stroke-width="1.8" />
<path d="M1079.08,1153.1L1086.93,1156.36" stroke="#9a9a9a" stroke-width="3.2" stroke-linecap="round"/>
<path d="M1076.1,1156.08L1079.36,1163.93" stroke="#9a9a9a" stroke-width="3.2" stroke-linecap="round"/>
<path d="M1071.9,1156.08L1068.64,1163.93" stroke="#9a9a9a" stroke-width="3.2" stroke-linecap="round"/>
<path d="M1068.92,1153.1L1061.07,1156.36" stroke="#9a9a9a" stroke-width="3.2" stroke-linecap="round"/>
<path d="M1068.92,1148.9L1061.07,1145.64" stroke="#9a9a9a" stroke-width="3.2" stroke-linecap="round"/>
<path d="M1071.9,1145.92L1068.64,1138.07" stroke="#9a9a9a" stroke-width="3.2" stroke-linecap="round"/>
<path d="M1076.1,1145.92L1079.36,1138.07" stroke="#9a9a9a" stroke-width="3.2" stroke-linecap="round"/>
<path d="M1079.08,1148.9L1086.93,1145.64" stroke="#9a9a9a" stroke-width="3.2" stroke-linecap="round"/>
<circle cx="1074" cy="1151" r="2.6" fill="#8c8c8c" stroke="none" stroke-width="1" />
<path d="M1059,1173 Q1062,1180 1075,1180.5 H1088 M1059,1173 V1185 M1088,1178.5 V1183" stroke="#9a9a9a" stroke-width="1.6" fill="none"/>
<rect x="1064" y="1180.5" width="21" height="7.5" rx="3.7" fill="none" stroke="#9a9a9a" stroke-width="1.8"/>
<path d="M965,1175 Q977,1170.5 989.5,1175 L987.5,1187 Q977,1183 967.5,1187.5 Z" fill="#d9d9d9" stroke="#999" stroke-width="1"/>
<path d="M977.3,1188V1172 M977.3,1174 q-4,-9 -8,-1.5 M977.3,1174 q4,-9 8,-1.5" stroke="#8a8a8a" stroke-width="1.1" fill="none"/>
<rect x="914" y="1189.6" width="17" height="12" fill="#fff" stroke="#222" stroke-width="1.3" rx="0" />
<path d="M925.5,1189.6L920,1195.6L925.5,1201.6" stroke="#222" stroke-width="1.3" fill="none"/>
<path d="M914,1195.6H907M907,1189V1202" stroke="#222" stroke-width="1.3" fill="none"/>
<polyline points="931,1195.6 938,1195.6 949,1200" fill="none" stroke="#222" stroke-width="1.3" stroke-linejoin="round" />
<rect x="935" y="1206" width="51" height="39" fill="#d4d4d4" stroke="none" stroke-width="0" rx="3.5" />
<rect x="949" y="1196.5" width="9.5" height="7" fill="#b4b4b4" stroke="#666" stroke-width="0.8" rx="0" />
<rect x="951.5" y="1194.5" width="4.5" height="2.5" fill="#999" stroke="none" stroke-width="1" rx="0" />
<rect x="944" y="1203" width="19" height="3" fill="#9a9a9a" stroke="#666" stroke-width="0.6" rx="0" />
<rect x="951" y="1206" width="6" height="32" fill="url(#cyl)" stroke="#666" stroke-width="0.6" rx="0" />
<rect x="948" y="1238" width="11" height="3" fill="#9a9a9a" stroke="#666" stroke-width="0.6" rx="0" />
<path d="M724,1297H779V1307H782V1333H779V1343H724Z" fill="#b4b4b4" stroke="#8c8c8c" stroke-width="1"/>
<path d="M750.7,1297V1312" stroke="#111" stroke-width="2.6"/>
<circle cx="750.7" cy="1312" r="3.1" fill="#111" stroke="none" stroke-width="1" />
<path d="M750.7,1312L756.7,1327" stroke="#111" stroke-width="2.2"/>
<path d="M750.7,1328V1343" stroke="#111" stroke-width="2.6"/>
<path d="M755.7,1320H769.7" stroke="#111" stroke-width="1.2" stroke-dasharray="4 2.5"/>
<g transform="rotate(-25 770.7 1320)"><path d="M770.7,1318.8 L808.7,1315.2 V1324.8 L770.7,1321.4 Z" fill="#7a7a7a"/></g>
<circle cx="770.7" cy="1320" r="3.6" fill="#8a8a8a" stroke="none" stroke-width="1" />
<polyline points="750.7,1343 750.7,1367" fill="none" stroke="#8a8758" stroke-width="3.1" stroke-linejoin="round" />
<polyline points="750.7,1343 750.7,1367" fill="none" stroke="#f3ec84" stroke-width="2.3" stroke-linejoin="round" />
<polyline points="750.7,1343 750.7,1367" fill="none" stroke="#3c3c2a" stroke-width="3.1" stroke-linejoin="round" stroke-dasharray="1.6 3.2"/>
<polyline points="750.7,1343 750.7,1367" fill="none" stroke="#f6f08e" stroke-width="1.0" stroke-linejoin="round" />
<rect x="744.7" y="1367" width="12" height="16.5" fill="#fff" stroke="#333" stroke-width="1.2" rx="0" />
<path d="M744.7,1378.25L750.7,1372.75L756.7,1378.25" stroke="#333" stroke-width="1.2" fill="none"/>
<path d="M750.7,1383.5V1396" stroke="#222" stroke-width="1.3"/>
<rect x="743.2" y="1395" width="15" height="8" fill="#808080" stroke="none" stroke-width="1" rx="0" />
<rect x="743.2" y="1428.5" width="15" height="7.5" fill="#808080" stroke="none" stroke-width="1" rx="0" />
<circle cx="750.7" cy="1415" r="14.6" fill="#cbcbcb" stroke="#6a6a6a" stroke-width="1.2" />
<path d="M750.7,1436V1447M744.7,1447H756.7" stroke="#222" stroke-width="1.4" fill="none"/>
<path d="M765.5,1376.5 Q779.5,1371.5 793.5,1375.5 L790.5,1389.5 Q779.5,1386.5 769.5,1390.5 Z" fill="#d9d9d9" stroke="#9a9a9a" stroke-width="1"/>
<path d="M773.5,1402.5 q-2.5,-4 0,-8 q2.5,-4 0,-8 q-1.5,-3 0,-5" stroke="#777" stroke-width="1.3" fill="none"/><path d="M771.3,1384l2.2,-3.5l2.2,3.5z" fill="#777"/>
<path d="M778.5,1402.5 q-2.5,-4 0,-8 q2.5,-4 0,-8 q-1.5,-3 0,-5" stroke="#777" stroke-width="1.3" fill="none"/><path d="M776.3,1384l2.2,-3.5l2.2,3.5z" fill="#777"/>
<path d="M783.5,1402.5 q-2.5,-4 0,-8 q2.5,-4 0,-8 q-1.5,-3 0,-5" stroke="#777" stroke-width="1.3" fill="none"/><path d="M781.3,1384l2.2,-3.5l2.2,3.5z" fill="#777"/>
<circle cx="797.5" cy="1377.5" r="2.8" fill="#bdbdbd" stroke="#9a9a9a" stroke-width="0.8" />
<path d="M795.5,1382.5 L790.5,1394.5 H786.5 L784.5,1403.5" stroke="#a8a8a8" stroke-width="2.6" fill="none" stroke-linejoin="round"/>
<path d="M984,1281.7H1034" stroke="#111" stroke-width="2.4"/>
<rect x="991" y="1276.8" width="36" height="10.5" fill="#fff" stroke="#111" stroke-width="2.2" rx="0" />
<path d="M993,1281.7H1025" stroke="#111" stroke-width="1"/>
<rect x="916" y="1323" width="12" height="17" fill="#fff" stroke="#444" stroke-width="1.1" rx="0" />
<path d="M916,1334.5L922,1329L928,1334.5" stroke="#444" stroke-width="1.1" fill="none"/>
<rect x="916" y="1392.5" width="12" height="17.5" fill="#fff" stroke="#444" stroke-width="1.1" rx="0" />
<path d="M916,1398.25L922,1403.75L928,1398.25" stroke="#444" stroke-width="1.1" fill="none"/>
<rect x="933" y="1354" width="29" height="25" fill="#b4b4b4" stroke="#8c8c8c" stroke-width="1" rx="0" />
<path d="M934,1358H941L946,1366M941,1375H934M946,1367.5H960" stroke="#333" stroke-width="1.1" fill="none" stroke-dasharray="0"/>
<rect x="962" y="1357" width="14.5" height="18.5" fill="#9a9a9a" stroke="#777" stroke-width="0.7" rx="0" />
<path d="M963.5,1357V1375.5" stroke="#d6d6d6" stroke-width="0.9"/>
<path d="M966.3,1357V1375.5" stroke="#d6d6d6" stroke-width="0.9"/>
<path d="M969.1,1357V1375.5" stroke="#d6d6d6" stroke-width="0.9"/>
<path d="M971.9,1357V1375.5" stroke="#d6d6d6" stroke-width="0.9"/>
<path d="M974.7,1357V1375.5" stroke="#d6d6d6" stroke-width="0.9"/>
<rect x="976.5" y="1361.5" width="19.5" height="8.5" fill="#b0b0b0" stroke="none" stroke-width="0" rx="3" />
<rect x="210.5" y="1139.5" width="70.5" height="46.5" fill="#b2b2b2" stroke="#8a8a8a" stroke-width="1" rx="0" />
<rect x="226" y="1140" width="9" height="45.5" fill="#d9d9d9" stroke="none" stroke-width="1" rx="0" />
<rect x="245" y="1140" width="9" height="45.5" fill="#dedede" stroke="none" stroke-width="1" rx="0" />
<rect x="264" y="1140" width="17" height="45.5" fill="#8c8c8c" stroke="none" stroke-width="1" rx="0" />
<path d="M221,1162.5H236" stroke="#222" stroke-width="1.1" stroke-dasharray="5 2"/>
<path d="M240,1168V1180M249.5,1157V1178M258.5,1146V1169" stroke="#222" stroke-width="1.6"/>
<circle cx="240" cy="1168" r="1.3" fill="#222" stroke="none" stroke-width="1" />
<circle cx="240" cy="1180" r="1.3" fill="#222" stroke="none" stroke-width="1" />
<circle cx="249.5" cy="1157" r="1.3" fill="#222" stroke="none" stroke-width="1" />
<circle cx="249.5" cy="1178" r="1.3" fill="#222" stroke="none" stroke-width="1" />
<circle cx="258.5" cy="1146" r="1.3" fill="#222" stroke="none" stroke-width="1" />
<circle cx="258.5" cy="1169" r="1.3" fill="#222" stroke="none" stroke-width="1" />
<text x="272.5" y="1151" font-size="11.5" font-weight="normal" fill="#9a9a9a" text-anchor="middle" stroke="#2c2c2c" stroke-width="0.9" paint-order="stroke" stroke-linejoin="round" >СТ</text>
<text x="272.5" y="1161.5" font-size="11.5" font-weight="normal" fill="#9a9a9a" text-anchor="middle" stroke="#2c2c2c" stroke-width="0.9" paint-order="stroke" stroke-linejoin="round" >КЗ</text>
<text x="272.5" y="1172.5" font-size="11.5" font-weight="normal" fill="#9a9a9a" text-anchor="middle" stroke="#2c2c2c" stroke-width="0.9" paint-order="stroke" stroke-linejoin="round" >+</text>
<text x="272.5" y="1184" font-size="11.5" font-weight="normal" fill="#9a9a9a" text-anchor="middle" stroke="#2c2c2c" stroke-width="0.9" paint-order="stroke" stroke-linejoin="round" >ПР</text>
<path d="M281,1146H299" stroke="#111" stroke-width="2.4"/>
<path d="M281,1157H299" stroke="#111" stroke-width="2.4"/>
<path d="M281,1168H299" stroke="#111" stroke-width="2.4"/>
<path d="M281,1179.5H299" stroke="#111" stroke-width="2.4"/>
<path d="M191,1150 l2,1.5 l2,-1.5 l2,1.5 l2,-1.5 l2,1.5 l2,-1.5 l2,1.5 l2,-1.5 l2,1.5 l1.5,-1.5 V1176 l-1.5,-1.5 l-2,1.5 l-2,-1.5 l-2,1.5 l-2,-1.5 l-2,1.5 l-2,-1.5 l-2,1.5 l-2,-1.5 l-2,1.5 Z" fill="#c9c9c9" stroke="#a5a5a5" stroke-width="0.8"/>
<path d="M180,1158 H195 l2.5,-2 l2.5,2.5 l3,-2.5 l3,2.5 l3,-2 l3,2.5 l3,-1.5 l4,2 l4,3 l-3.5,4 H180 Z" fill="#858585"/>
<ellipse cx="173" cy="1162" rx="9.8" ry="10.8" fill="#858585"/>
<circle cx="170.5" cy="1162" r="3.5" fill="#fff" stroke="none" stroke-width="1" />
<rect x="357.5" y="1302" width="56.5" height="55" fill="#b4b4b4" stroke="none" stroke-width="1" rx="0" />
<rect x="335.5" y="1302" width="22" height="55.5" fill="#fff" stroke="#222" stroke-width="1.2" rx="0" />
<path d="M335.5,1320H357.5M335.5,1338.5H357.5" stroke="#222" stroke-width="1.1"/>
<text x="346.5" y="1317" font-size="15" font-weight="normal" fill="#222" text-anchor="middle" >49</text>
<text x="346.5" y="1335.5" font-size="15" font-weight="normal" fill="#222" text-anchor="middle" >31</text>
<text x="346.5" y="1353.5" font-size="13" font-weight="normal" fill="#222" text-anchor="middle" textLength="19" lengthAdjust="spacingAndGlyphs" >49a</text>
<path d="M324,1328.5H335.5M324,1320.5V1336.5" stroke="#222" stroke-width="1.3" fill="none"/>
<path d="M357.5,1310H396V1320M357.5,1328.5H373M365.5,1328.5V1318.5H373.5M365.5,1328.5V1343H378.5M357.5,1346.5H409.5V1335.5M409.5,1323.5V1318.5H389M381.5,1310V1313" stroke="#222" stroke-width="1.1" fill="none"/>
<rect x="373.5" y="1313" width="16" height="11.5" fill="#b4b4b4" stroke="#222" stroke-width="1.1" rx="0" />
<rect x="373.5" y="1327.5" width="10" height="14" fill="#b4b4b4" stroke="#222" stroke-width="1.1" rx="0" />
<rect x="407.3" y="1323.5" width="4.4" height="12" fill="#ddd" stroke="#222" stroke-width="1" rx="0" />
<path d="M396,1320L403.5,1340M383.5,1334.5H400" stroke="#222" stroke-width="1.1" fill="none" stroke-dasharray="0"/>
<path d="M384,1334.5H400" stroke="#b4b4b4" stroke-width="1.6" stroke-dasharray="0 4 3 0"/>
<circle cx="381.5" cy="1310" r="2.4" fill="#222" stroke="none" stroke-width="1" />
<circle cx="365.5" cy="1328.5" r="2.4" fill="#222" stroke="none" stroke-width="1" />
<circle cx="399" cy="1346.5" r="2.4" fill="#222" stroke="none" stroke-width="1" />
<circle cx="386" cy="1316.5" r="1.2" fill="none" stroke="#222" stroke-width="0.8" />
<path d="M399,1307.5l5.5,-4.5v2.8h5v-2.8l5.5,4.5l-5.5,4.5v-2.8h-5v2.8z" fill="#8d8d8d"/>
<path d="M445.5,1202.5H500.5V1212.5H503.5V1238H500.5V1248H445.5Z" fill="#b4b4b4" stroke="#8c8c8c" stroke-width="1"/>
<path d="M474,1202.5V1217" stroke="#111" stroke-width="2.6"/>
<circle cx="473.3" cy="1217" r="3.1" fill="#111" stroke="none" stroke-width="1" />
<path d="M473.3,1217L468,1231V1248" stroke="#111" stroke-width="2.2" fill="none"/>
<path d="M479.5,1234V1248" stroke="#111" stroke-width="2.2"/>
<path d="M472,1225.5H494" stroke="#111" stroke-width="1.2" stroke-dasharray="4 2.5"/>
<rect x="503" y="1214" width="11" height="21" fill="#b8b8b8" stroke="#8a8a8a" stroke-width="0.7" rx="0" />
<path d="M504.5,1214V1235" stroke="#888" stroke-width="1.1"/>
<path d="M507.2,1214V1235" stroke="#888" stroke-width="1.1"/>
<path d="M509.9,1214V1235" stroke="#888" stroke-width="1.1"/>
<path d="M512.6,1214V1235" stroke="#888" stroke-width="1.1"/>
<rect x="494" y="1216" width="9" height="17" fill="#0f9bd7" stroke="none" stroke-width="1" rx="0" />
<rect x="514" y="1210" width="11" height="30" fill="#0f9bd7" stroke="none" stroke-width="1" rx="0" />
<path d="M547,1189.5 A11,9.5 0 0 0 547,1208.5 Q549.5,1199 547,1189.5 Z" fill="#c4c4c4" stroke="#8a8a8a" stroke-width="1.2"/>
<path d="M551,1196.2L561,1191.8" stroke="#8a8a8a" stroke-width="2.2"/>
<path d="M551,1201.2L561,1196.8" stroke="#8a8a8a" stroke-width="2.2"/>
<path d="M551,1206.2L561,1201.8" stroke="#8a8a8a" stroke-width="2.2"/>
<path d="M547,1238 A11,9.5 0 0 0 547,1257 Q549.5,1247.5 547,1238 Z" fill="#c4c4c4" stroke="#8a8a8a" stroke-width="1.2"/>
<path d="M551,1242.5H560.5" stroke="#8a8a8a" stroke-width="2.2"/>
<path d="M551,1247.5H560.5" stroke="#8a8a8a" stroke-width="2.2"/>
<path d="M551,1252.5H560.5" stroke="#8a8a8a" stroke-width="2.2"/>
<path d="M469,1339.5H524V1349.5H527V1375H524V1385H469Z" fill="#b4b4b4" stroke="#8c8c8c" stroke-width="1"/>
<path d="M479,1339.5V1355" stroke="#111" stroke-width="2.6"/>
<circle cx="479" cy="1355" r="3.1" fill="#111" stroke="none" stroke-width="1" />
<path d="M479,1355L474.5,1370.5" stroke="#111" stroke-width="2.2"/>
<path d="M496,1339.5V1355" stroke="#111" stroke-width="2.6"/>
<circle cx="496" cy="1355" r="3.1" fill="#111" stroke="none" stroke-width="1" />
<path d="M496,1355L491.5,1370.5" stroke="#111" stroke-width="2.2"/>
<path d="M474,1371V1385" stroke="#111" stroke-width="2.2"/>
<path d="M485,1371V1385" stroke="#111" stroke-width="2.2"/>
<path d="M491,1371V1385" stroke="#111" stroke-width="2.2"/>
<path d="M502.5,1371V1385" stroke="#111" stroke-width="2.2"/>
<path d="M479,1362.5H515" stroke="#111" stroke-width="1.2" stroke-dasharray="4 2.5"/>
<g transform="rotate(23 516 1362.5)"><path d="M516,1361.3 L555,1357.7 V1367.3 L516,1363.9 Z" fill="#7a7a7a"/></g>
<circle cx="516" cy="1362.5" r="3.6" fill="#8a8a8a" stroke="none" stroke-width="1" />
<rect x="315.3" y="1403" width="30" height="33" fill="#b8b8b8" stroke="none" stroke-width="1" rx="0" />
<rect x="345" y="1403" width="29" height="33" fill="#fff" stroke="#999" stroke-width="0.6" rx="0" />
<text x="345.5" y="1413.3" font-size="13.5" font-weight="normal" fill="#222" text-anchor="start" textLength="29" lengthAdjust="spacingAndGlyphs" >49aL</text>
<text x="345.5" y="1424.8" font-size="13.5" font-weight="normal" fill="#222" text-anchor="start" textLength="22" lengthAdjust="spacingAndGlyphs" >49a</text>
<text x="345.5" y="1436" font-size="13.5" font-weight="normal" fill="#222" text-anchor="start" textLength="30" lengthAdjust="spacingAndGlyphs" >49aR</text>
<path d="M345,1407.5H324.5V1413M345,1419L341,1418L323,1427M345,1431H325V1426" stroke="#222" stroke-width="1.2" fill="none"/>
<path d="M316,1411 A9.5,9.5 0 0 0 316,1430.5 Z" fill="#b5b5b5"/>
<circle cx="310.5" cy="1421" r="0.9" fill="#333" stroke="none" stroke-width="1" />
<path d="M263,1421H307" stroke="#a5a5a5" stroke-width="4.2" stroke-linecap="round"/>
<g transform="rotate(-13 308 1421)"><path d="M306,1419 H263.5 q-2,2 0,4 H306" fill="none" stroke="#8a8a8a" stroke-width="1" stroke-dasharray="5 2.5"/></g>
<g transform="rotate(13 308 1421)"><path d="M306,1419 H263.5 q-2,2 0,4 H306" fill="none" stroke="#8a8a8a" stroke-width="1" stroke-dasharray="5 2.5"/></g>
<circle cx="64.5" cy="1327.5" r="11" fill="#e5302a" stroke="#1a1a1a" stroke-width="1.3" />
<path d="M56.7219,1319.72L72.2781,1335.28M72.2781,1319.72L56.7219,1335.28" stroke="#1a1a1a" stroke-width="1.1" fill="none"/>
<circle cx="186" cy="1327.5" r="11" fill="#e5302a" stroke="#1a1a1a" stroke-width="1.3" />
<path d="M178.222,1319.72L193.778,1335.28M193.778,1319.72L178.222,1335.28" stroke="#1a1a1a" stroke-width="1.1" fill="none"/>
<circle cx="288" cy="1327.5" r="11" fill="#0b9547" stroke="#1a1a1a" stroke-width="1.3" />
<path d="M280.222,1319.72L295.778,1335.28M295.778,1319.72L280.222,1335.28" stroke="#1a1a1a" stroke-width="1.1" fill="none"/>
<polyline points="64.5,1338.5 64.5,1383" fill="none" stroke="#8a8a8a" stroke-width="1.4" stroke-linejoin="round" />
<rect x="58.5" y="1383" width="12" height="18" fill="#fff" stroke="#8a8a8a" stroke-width="1.2" rx="0" />
<path d="M58.5,1395L64.5,1389.5L70.5,1395" stroke="#8a8a8a" stroke-width="1.2" fill="none"/>
<polyline points="64.5,1401 64.5,1414" fill="none" stroke="#8a8a8a" stroke-width="1.4" stroke-linejoin="round" />
<polyline points="55,1416 64.5,1427.5 64.5,1442" fill="none" stroke="#8a8a8a" stroke-width="1.4" stroke-linejoin="round" />
<path d="M57.5,1442H72" stroke="#8a8a8a" stroke-width="1.5"/>
<path d="M40.5,1379 L43.5,1378.5 L51,1433 L45,1434 Z" fill="#a9a9a9" stroke="#777" stroke-width="0.8"/>
<path d="M44.5,1420 l5.5,-1 l1.2,8 l-5.5,1 z" fill="#6f6f6f"/>
<circle cx="47.5" cy="1436" r="6.3" fill="#b5b5b5" stroke="#6f6f6f" stroke-width="1.6" />
<circle cx="47.5" cy="1436" r="2.4" fill="#777" stroke="none" stroke-width="1" />
<polyline points="186,1338.5 186,1347.5" fill="none" stroke="#8a8a8a" stroke-width="1.4" stroke-linejoin="round" />
<rect x="180.75" y="1347.5" width="11.5" height="16.5" fill="#fff" stroke="#8a8a8a" stroke-width="1.2" rx="0" />
<path d="M180.75,1358.75L186.5,1353.25L192.25,1358.75" stroke="#8a8a8a" stroke-width="1.2" fill="none"/>
<polyline points="186.5,1364 186.5,1389 182.5,1389" fill="none" stroke="#8a8a8a" stroke-width="1.4" stroke-linejoin="round" />
<path d="M149,1365V1380M149,1372.5H165V1389H170L180,1381" stroke="#8a8a8a" stroke-width="1.4" fill="none"/>
<path d="M176,1390V1400" stroke="#8a8a8a" stroke-width="1.3" stroke-dasharray="3 2"/>
<circle cx="176" cy="1402.5" r="2.4" fill="#777" stroke="none" stroke-width="1" />
<path d="M176,1402.5V1427" stroke="#8a8a8a" stroke-width="1.2"/>
<path d="M170,1412 H184 V1417 L202.5,1422.5 L199,1442 H142.5 L139.5,1427.5 L170,1417 Z" fill="#dedede" stroke="#9a9a9a" stroke-width="1.1"/>
<path d="M141,1428.5 q15,-4 24,0 M180,1428 q10,-4 21,-2" stroke="#b5b5b5" stroke-width="0.9" fill="none"/>
<circle cx="171.5" cy="1428" r="8.3" fill="#d0d0d0" stroke="#8a8a8a" stroke-width="1.2" />
<circle cx="171.5" cy="1428" r="5.3" fill="#8f8f8f" stroke="none" stroke-width="1" />
<path d="M249.5,1340.5l7,-6v3.5h3.5v5h-3.5v3.5z M275,1340.5l-7,-6v3.5h-3.5v5h3.5v3.5z" fill="#aaa" stroke="#8a8a8a" stroke-width="0.8"/>
<rect x="58" y="1492" width="26.5" height="22" fill="#fff" stroke="#7a7a7a" stroke-width="2.2" rx="0" />
<path d="M66.5,1494.5L74,1503L66.5,1511.5" stroke="#7a7a7a" stroke-width="2" fill="none"/>
<rect x="128" y="1535.5" width="86" height="33.7" fill="#c6c6c6" stroke="#6a6a6a" stroke-width="1.1" rx="6" />
<rect x="246" y="1535.5" width="35" height="33.7" fill="#c6c6c6" stroke="#6a6a6a" stroke-width="1.1" rx="6" />
<rect x="319" y="1535.5" width="35" height="33.7" fill="#c6c6c6" stroke="#6a6a6a" stroke-width="1.1" rx="6" />
<rect x="386" y="1535.5" width="86" height="33.7" fill="#c6c6c6" stroke="#6a6a6a" stroke-width="1.1" rx="6" />
<path d="M142.5,1563V1577.5M134.5,1577.5H150.5" stroke="#555" stroke-width="1.4" fill="none"/>
<circle cx="142.5" cy="1552.5" r="11" fill="#fff" stroke="#1a1a1a" stroke-width="1.3" />
<path d="M134.722,1544.72L150.278,1560.28M150.278,1544.72L134.722,1560.28" stroke="#1a1a1a" stroke-width="1.1" fill="none"/>
<path d="M170.5,1563V1577.5M162.5,1577.5H178.5" stroke="#555" stroke-width="1.4" fill="none"/>
<circle cx="170.5" cy="1552.5" r="11" fill="#ef7d3a" stroke="#1a1a1a" stroke-width="1.3" />
<path d="M162.722,1544.72L178.278,1560.28M178.278,1544.72L162.722,1560.28" stroke="#1a1a1a" stroke-width="1.1" fill="none"/>
<path d="M198.5,1563V1577.5M190.5,1577.5H206.5" stroke="#555" stroke-width="1.4" fill="none"/>
<circle cx="198.5" cy="1552.5" r="11" fill="#f7e52f" stroke="#1a1a1a" stroke-width="1.3" />
<path d="M190.722,1544.72L206.278,1560.28M206.278,1544.72L190.722,1560.28" stroke="#1a1a1a" stroke-width="1.1" fill="none"/>
<path d="M264,1563V1577.5M256,1577.5H272" stroke="#555" stroke-width="1.4" fill="none"/>
<circle cx="264" cy="1552.5" r="11" fill="#fff" stroke="#1a1a1a" stroke-width="1.3" />
<path d="M256.222,1544.72L271.778,1560.28M271.778,1544.72L256.222,1560.28" stroke="#1a1a1a" stroke-width="1.1" fill="none"/>
<path d="M336,1563V1577.5M328,1577.5H344" stroke="#555" stroke-width="1.4" fill="none"/>
<circle cx="336" cy="1552.5" r="11" fill="#0f9bd7" stroke="#1a1a1a" stroke-width="1.3" />
<path d="M328.222,1544.72L343.778,1560.28M343.778,1544.72L328.222,1560.28" stroke="#1a1a1a" stroke-width="1.1" fill="none"/>
<path d="M400.5,1563V1577.5M392.5,1577.5H408.5" stroke="#555" stroke-width="1.4" fill="none"/>
<circle cx="400.5" cy="1552.5" r="11" fill="#f7e52f" stroke="#1a1a1a" stroke-width="1.3" />
<path d="M392.722,1544.72L408.278,1560.28M408.278,1544.72L392.722,1560.28" stroke="#1a1a1a" stroke-width="1.1" fill="none"/>
<path d="M429.5,1563V1577.5M421.5,1577.5H437.5" stroke="#555" stroke-width="1.4" fill="none"/>
<circle cx="429.5" cy="1552.5" r="11" fill="#ef7d3a" stroke="#1a1a1a" stroke-width="1.3" />
<path d="M421.722,1544.72L437.278,1560.28M437.278,1544.72L421.722,1560.28" stroke="#1a1a1a" stroke-width="1.1" fill="none"/>
<path d="M457,1563V1577.5M449,1577.5H465" stroke="#555" stroke-width="1.4" fill="none"/>
<circle cx="457" cy="1552.5" r="11" fill="#fff" stroke="#1a1a1a" stroke-width="1.3" />
<path d="M449.222,1544.72L464.778,1560.28M464.778,1544.72L449.222,1560.28" stroke="#1a1a1a" stroke-width="1.1" fill="none"/>
<path d="M184,1505 Q198,1518 199,1541" stroke="#d8cf4a" stroke-width="2" fill="none" stroke-dasharray="2.6 2"/>
<text x="40" y="110.5" font-size="42" font-weight="bold" fill="#1a1a1a" text-anchor="start" textLength="466" lengthAdjust="spacingAndGlyphs" >Схема эл.оборУдования</text>
<text x="40" y="149.5" font-size="38.2" font-weight="bold" fill="#1a1a1a" text-anchor="start" >Labi</text>
<text x="31" y="1665" font-size="30.2" font-weight="bold" fill="#1a1a1a" text-anchor="start" textLength="314" lengthAdjust="spacingAndGlyphs" >Версия «Лесхоз», 5.5</text>
<text x="182.5" y="172" font-size="17.2" font-weight="bold" fill="#ef7d3a" text-anchor="middle" >6</text>
<text x="201" y="172" font-size="17.2" font-weight="bold" fill="#0f9bd7" text-anchor="middle" >2</text>
<text x="256" y="172" font-size="17.2" font-weight="bold" fill="#fff" text-anchor="middle" stroke="#1c1c1c" stroke-width="0.855" stroke-linejoin="round" >5</text>
<text x="276" y="172" font-size="17.2" font-weight="bold" fill="#e8de62" text-anchor="middle" stroke="#1c1c1c" stroke-width="0.855" stroke-linejoin="round" >1</text>
<text x="560" y="172" font-size="17.2" font-weight="bold" fill="#0b9547" text-anchor="middle" >4</text>
<text x="579.5" y="172" font-size="17.2" font-weight="bold" fill="#fff" text-anchor="middle" stroke="#1c1c1c" stroke-width="0.855" stroke-linejoin="round" >5</text>
<text x="634.5" y="172" font-size="17.2" font-weight="bold" fill="#0f9bd7" text-anchor="middle" >2</text>
<text x="654" y="172" font-size="17.2" font-weight="bold" fill="#ef7d3a" text-anchor="middle" >6</text>
<text x="733.5" y="308" font-size="17.2" font-weight="bold" fill="#0f9bd7" text-anchor="middle" >1</text>
<text x="722" y="347" font-size="17.2" font-weight="bold" fill="#e8de62" text-anchor="middle" stroke="#1c1c1c" stroke-width="0.855" stroke-linejoin="round" >6</text>
<text x="722" y="386" font-size="17.2" font-weight="bold" fill="#0b9547" text-anchor="middle" >8</text>
<text x="722" y="451" font-size="17.2" font-weight="bold" fill="#ef7d3a" text-anchor="middle" >7</text>
<text x="722" y="613" font-size="17.2" font-weight="bold" fill="#e0392b" text-anchor="middle" >5</text>
<text x="105" y="294.5" font-size="17.2" font-weight="bold" fill="#1a1a1a" text-anchor="start" textLength="61" lengthAdjust="spacingAndGlyphs" >Л.фара</text>
<text x="197" y="294.5" font-size="17.2" font-weight="bold" fill="#1a1a1a" text-anchor="start" textLength="117.5" lengthAdjust="spacingAndGlyphs" >К спидометру</text>
<text x="222.5" y="314" font-size="17.2" font-weight="bold" fill="#1a1a1a" text-anchor="start" textLength="65.5" lengthAdjust="spacingAndGlyphs" >для 452</text>
<text x="582" y="270" font-size="17.2" font-weight="bold" fill="#1a1a1a" text-anchor="start" textLength="62.5" lengthAdjust="spacingAndGlyphs" >П.фара</text>
<text x="339.5" y="302.5" font-size="17" font-weight="normal" fill="#0f9bd7" text-anchor="start" >Темп.</text>
<text x="339.5" y="316" font-size="17" font-weight="normal" fill="#0f9bd7" text-anchor="start" >порог</text>
<text x="477.4" y="332.2" font-size="17" font-weight="normal" fill="#d9d184" text-anchor="start" stroke="#2a2a20" stroke-width="1.0" paint-order="stroke" stroke-linejoin="round" textLength="44.3" lengthAdjust="spacingAndGlyphs" >Темп.</text>
<text x="506" y="375.5" font-size="17" font-weight="normal" fill="#0b9547" text-anchor="start" textLength="96" lengthAdjust="spacingAndGlyphs" >Давл. порог</text>
<text x="535" y="444.5" font-size="17" font-weight="normal" fill="#ef7d3a" text-anchor="start" >Давл.</text>
<text x="298" y="508" font-size="17.2" font-weight="bold" fill="#1a1a1a" text-anchor="start" textLength="82.5" lengthAdjust="spacingAndGlyphs" >Трамблёр</text>
<text x="159.5" y="542" font-size="17.2" font-weight="bold" fill="#e8de62" text-anchor="end" stroke="#1c1c1c" stroke-width="0.855" stroke-linejoin="round" >Катушка</text>
<text x="159.5" y="560" font-size="17.2" font-weight="bold" fill="#e8de62" text-anchor="end" stroke="#1c1c1c" stroke-width="0.855" stroke-linejoin="round" >зажигания</text>
<text x="228" y="644" font-size="17.2" font-weight="bold" fill="#ef7d3a" text-anchor="start" >КЗ</text>
<path d="M216,669H220.7V664.3H224.3V669H229V672.6H224.3V677.3H220.7V672.6H216Z" fill="#f5e532" stroke="#222" stroke-width="1.1" stroke-linejoin="round"/>
<text x="517" y="530" font-size="17.2" font-weight="bold" fill="#1a1a1a" text-anchor="start" textLength="87.5" lengthAdjust="spacingAndGlyphs" >Генератор</text>
<text x="535" y="764" font-size="26.3" font-weight="bold" fill="#e5237f" text-anchor="start" >АКБ</text>
<text x="450" y="859" font-size="29.3" font-weight="bold" fill="#e5237f" text-anchor="start" >№3</text>
<text x="410" y="812.2" font-size="17.2" font-weight="bold" fill="#0b9547" text-anchor="start" textLength="69" lengthAdjust="spacingAndGlyphs" >Стартер</text>
<text x="155.5" y="945" font-size="17.2" font-weight="bold" fill="#e0392b" text-anchor="start" textLength="103.5" lengthAdjust="spacingAndGlyphs" >Коммутатор</text>
<text x="145" y="804.5" font-size="16" font-weight="normal" fill="#222" text-anchor="start" >X1</text>
<text x="245" y="804.5" font-size="16" font-weight="normal" fill="#222" text-anchor="start" >X7</text>
<text transform="translate(149,756) rotate(90)" font-size="17.2" font-weight="bold" fill="#ef7d3a">КЗ</text>
<text transform="translate(188,735) rotate(90)" font-size="17.2" font-weight="bold" fill="#0b9547">Д</text>
<path d="M246.15,762.3H252.1V756.35H256.7V762.3H262.65V766.9H256.7V772.85H252.1V766.9H246.15Z" fill="#f5e532" stroke="#222" stroke-width="1.1" stroke-linejoin="round"/>
<text x="243.5" y="1000" font-size="29.3" font-weight="bold" fill="#e8de62" text-anchor="start" stroke="#1c1c1c" stroke-width="0.855" stroke-linejoin="round" >№1</text>
<text x="322" y="1000" font-size="29.3" font-weight="bold" fill="#0b9547" text-anchor="start" >№2</text>
<text x="407.5" y="867.5" font-size="17.2" font-weight="bold" fill="#1a1a1a" text-anchor="middle" >1</text>
<text x="522" y="867.5" font-size="17.2" font-weight="bold" fill="#1a1a1a" text-anchor="middle" >4</text>
<text x="531" y="881" font-size="17.2" font-weight="bold" fill="#1a1a1a" text-anchor="start" >П1</text>
<text x="362" y="1032.5" font-size="17.2" font-weight="bold" fill="#e0392b" text-anchor="start" textLength="44" lengthAdjust="spacingAndGlyphs" >Ключ</text>
<text x="517.5" y="1032.5" font-size="16.7" font-weight="bold" fill="#fff" text-anchor="start" stroke="#1c1c1c" stroke-width="0.855" stroke-linejoin="round" >Г.огни</text>
<text x="517.5" y="1131" font-size="17.4" font-weight="bold" fill="#0f9bd7" text-anchor="start" >Свет</text>
<text x="386" y="1195.5" font-size="17.4" font-weight="bold" fill="#0f9bd7" text-anchor="start" textLength="76" lengthAdjust="spacingAndGlyphs" >Д/Б Свет</text>
<text x="158" y="1135" font-size="17" font-weight="bold" fill="#e8de62" text-anchor="start" stroke="#1c1c1c" stroke-width="0.855" stroke-linejoin="round" >Пуск</text>
<text x="707.5" y="834" font-size="17.2" font-weight="bold" fill="#e0392b" text-anchor="middle" >5</text>
<text x="762.5" y="821" font-size="17.2" font-weight="bold" fill="#1a1a1a" text-anchor="middle" >2</text>
<text x="722" y="797" font-size="17.2" font-weight="bold" fill="#fff" text-anchor="middle" stroke="#1c1c1c" stroke-width="0.855" stroke-linejoin="round" >3</text>
<text x="900" y="877.5" font-size="17.2" font-weight="bold" fill="#0b9547" text-anchor="start" textLength="132" lengthAdjust="spacingAndGlyphs" >Блок приборов</text>
<text x="639.5" y="894" font-size="17.2" font-weight="bold" fill="#e0392b" text-anchor="middle" >5</text>
<text x="667" y="894" font-size="17.2" font-weight="bold" fill="#1a1a1a" text-anchor="middle" >2</text>
<text x="711" y="894" font-size="17.2" font-weight="bold" fill="#fff" text-anchor="middle" stroke="#1c1c1c" stroke-width="0.855" stroke-linejoin="round" >3</text>
<text x="736" y="894" font-size="17.2" font-weight="bold" fill="#0f9bd7" text-anchor="middle" >1</text>
<text x="763" y="894" font-size="17.2" font-weight="bold" fill="#e8de62" text-anchor="middle" stroke="#1c1c1c" stroke-width="0.855" stroke-linejoin="round" >6</text>
<text x="789" y="897.5" font-size="16" font-weight="bold" fill="#e8de62" text-anchor="middle" stroke="#1c1c1c" stroke-width="0.855" stroke-linejoin="round" >Д</text>
<text x="850" y="893" font-size="17.2" font-weight="bold" fill="#0b9547" text-anchor="middle" >8</text>
<text x="874" y="893" font-size="17.2" font-weight="bold" fill="#ef7d3a" text-anchor="middle" >7</text>
<text x="898" y="897.5" font-size="16" font-weight="bold" fill="#ef7d3a" text-anchor="middle" >Д</text>
<text x="1012" y="995" font-size="16" font-weight="bold" fill="#ef7d3a" text-anchor="middle" >Д</text>
<path d="M684,992H697.8M690.9,985V999" stroke="#e0392b" stroke-width="4.2" fill="none"/>
<text x="756" y="997.5" font-size="17.2" font-weight="bold" fill="#e0392b" text-anchor="middle" >Б</text>
<text x="865" y="997.5" font-size="17.2" font-weight="bold" fill="#e0392b" text-anchor="middle" >Б</text>
<text x="968" y="997.5" font-size="17.2" font-weight="bold" fill="#e0392b" text-anchor="middle" >Б</text>
<text x="624" y="1057.5" font-size="17.2" font-weight="bold" fill="#ef7d3a" text-anchor="start" textLength="83.5" lengthAdjust="spacingAndGlyphs" >Н. Тормоз</text>
<text x="736" y="1057.5" font-size="16.6" font-weight="bold" fill="#e8de62" text-anchor="start" stroke="#1c1c1c" stroke-width="0.855" stroke-linejoin="round" >Печь</text>
<text x="804" y="1057.5" font-size="17.2" font-weight="bold" fill="#e0392b" text-anchor="start" textLength="85" lengthAdjust="spacingAndGlyphs" >Дворники</text>
<text x="904" y="1057" font-size="17.2" font-weight="bold" fill="#333" text-anchor="start" textLength="100" lengthAdjust="spacingAndGlyphs" >Омыватель</text>
<text x="1012.5" y="1072.5" font-size="17.2" font-weight="bold" fill="#ef7d3a" text-anchor="start" >Бак</text>
<text x="1008" y="1124.5" font-size="17.2" font-weight="bold" fill="#1a1a1a" text-anchor="start" textLength="84" lengthAdjust="spacingAndGlyphs" >Зв.сигнал</text>
<text x="689.5" y="1167.5" font-size="17" font-weight="bold" fill="#8a8a8a" text-anchor="middle" >(S)</text>
<text x="793" y="1340.5" font-size="17.1" font-weight="bold" fill="#e8de62" text-anchor="start" stroke="#1c1c1c" stroke-width="0.855" stroke-linejoin="round" >Печь 2</text>
<text x="948" y="1341" font-size="17.2" font-weight="bold" fill="#0f9bd7" text-anchor="start" >З.ход</text>
<text x="449" y="1281" font-size="17.2" font-weight="bold" fill="#0f9bd7" text-anchor="middle" >2</text>
<text x="482.5" y="1281" font-size="17.2" font-weight="bold" fill="#ef7d3a" text-anchor="middle" >6</text>
<text x="542.5" y="1280" font-size="17.2" font-weight="bold" fill="#fff" text-anchor="middle" stroke="#1c1c1c" stroke-width="0.855" stroke-linejoin="round" >5</text>
<text x="456" y="1308" font-size="17.2" font-weight="bold" fill="#0b9547" text-anchor="middle" >4</text>
<text x="503" y="1308" font-size="17.2" font-weight="bold" fill="#e8de62" text-anchor="middle" stroke="#1c1c1c" stroke-width="0.855" stroke-linejoin="round" >1</text>
<text x="29" y="1345.5" font-size="17" font-weight="bold" fill="#7a7a7a" text-anchor="start" >(P)</text>
<text x="149.5" y="1345.5" font-size="17" font-weight="bold" fill="#7a7a7a" text-anchor="start" >(!)</text>
<text x="69.5" y="1367.5" font-size="17.2" font-weight="bold" fill="#ef7d3a" text-anchor="start" textLength="60.5" lengthAdjust="spacingAndGlyphs" >Р.Торм.</text>
<text x="202.5" y="1367.5" font-size="17.2" font-weight="bold" fill="#ef7d3a" text-anchor="start" >Торм.</text>
<text x="202.5" y="1387.5" font-size="17.2" font-weight="bold" fill="#ef7d3a" text-anchor="start" textLength="80" lengthAdjust="spacingAndGlyphs" >жидкость</text>
<text x="314" y="1393.3" font-size="17.2" font-weight="bold" fill="#0b9547" text-anchor="start" textLength="72.7" lengthAdjust="spacingAndGlyphs" >Поворот</text>
<text x="539" y="1449" font-size="17.2" font-weight="bold" fill="#cdc45c" text-anchor="middle" stroke="#2a2a20" stroke-width="0.9" paint-order="stroke" stroke-linejoin="round" >1</text>
<text x="577.5" y="1449" font-size="17.2" font-weight="bold" fill="#0b9547" text-anchor="middle" >4</text>
<text x="614.5" y="1449" font-size="17.2" font-weight="bold" fill="#fff" text-anchor="middle" stroke="#1c1c1c" stroke-width="0.855" stroke-linejoin="round" >5</text>
<text x="661" y="1449" font-size="17.2" font-weight="bold" fill="#ef7d3a" text-anchor="middle" >6</text>
<text x="691" y="1449" font-size="17.2" font-weight="bold" fill="#0f9bd7" text-anchor="middle" >2</text>
<text x="126" y="1526" font-size="17.2" font-weight="bold" fill="#fff" text-anchor="middle" stroke="#1c1c1c" stroke-width="0.855" stroke-linejoin="round" >5</text>
<text x="154" y="1526" font-size="17.2" font-weight="bold" fill="#fff" text-anchor="middle" stroke="#1c1c1c" stroke-width="0.855" stroke-linejoin="round" >5</text>
<text x="177.5" y="1526" font-size="17.2" font-weight="bold" fill="#ef7d3a" text-anchor="middle" >6</text>
<text x="209" y="1526" font-size="17.2" font-weight="bold" fill="#cdc45c" text-anchor="middle" stroke="#2a2a20" stroke-width="0.9" paint-order="stroke" stroke-linejoin="round" >1</text>
<text x="274" y="1526" font-size="17.2" font-weight="bold" fill="#fff" text-anchor="middle" stroke="#1c1c1c" stroke-width="0.855" stroke-linejoin="round" >5</text>
<text x="346" y="1526" font-size="17.2" font-weight="bold" fill="#0f9bd7" text-anchor="middle" >2</text>
<text x="409.5" y="1526" font-size="17.2" font-weight="bold" fill="#0b9547" text-anchor="middle" >4</text>
<text x="437.5" y="1526" font-size="17.2" font-weight="bold" fill="#ef7d3a" text-anchor="middle" >6</text>
<text x="467.5" y="1526" font-size="17.2" font-weight="bold" fill="#fff" text-anchor="middle" stroke="#1c1c1c" stroke-width="0.855" stroke-linejoin="round" >5</text>
<text x="93" y="1614" font-size="17.2" font-weight="bold" fill="#1a1a1a" text-anchor="start" textLength="123" lengthAdjust="spacingAndGlyphs" >Лев.з.фонарь</text>
<text x="231" y="1614.5" font-size="17.2" font-weight="bold" fill="#1a1a1a" text-anchor="start" textLength="78" lengthAdjust="spacingAndGlyphs" >Ном.знак</text>
<text x="321" y="1614" font-size="17.2" font-weight="bold" fill="#0f9bd7" text-anchor="start" textLength="45" lengthAdjust="spacingAndGlyphs" >З.ход</text>
<text x="384" y="1614" font-size="17.2" font-weight="bold" fill="#1a1a1a" text-anchor="start" textLength="133.5" lengthAdjust="spacingAndGlyphs" >Прав.з.фонарь</text>
<rect x="0.5" y="0.5" width="1199" height="1738" fill="none" stroke="#000" stroke-width="1"/>
</svg>
</body></html>
